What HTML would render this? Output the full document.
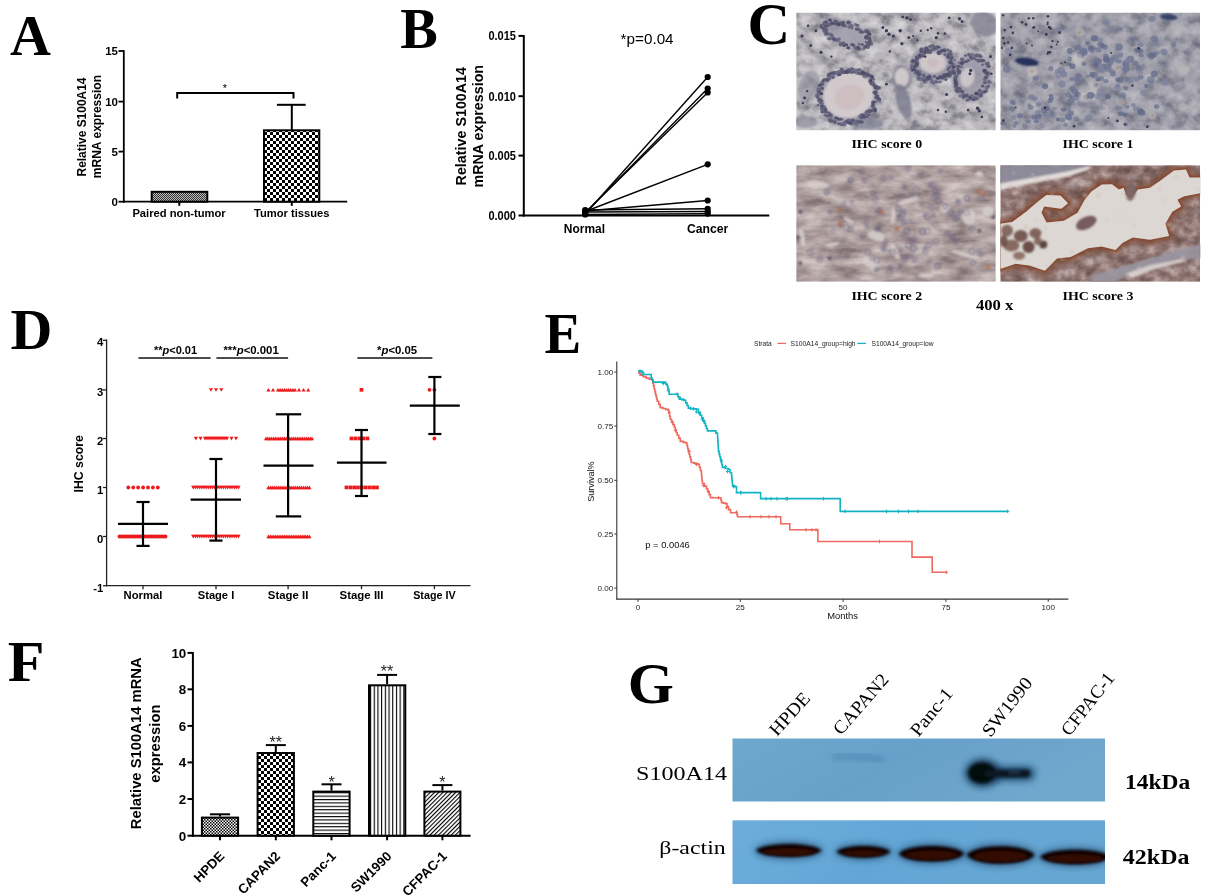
<!DOCTYPE html>
<html lang="en"><head><meta charset="utf-8"><title>S100A14 expression in pancreatic cancer</title>
<style>
html,body{margin:0;padding:0;background:#fff;}
body{width:1220px;height:896px;overflow:hidden;font-family:"Liberation Sans", Arial, sans-serif;}
svg{display:block;}
text{white-space:pre;}
</style></head><body>
<svg width="1220" height="896" viewBox="0 0 1220 896">
<rect width="1220" height="896" fill="#fff"/>
<defs>
<pattern id="chk3" width="6" height="6" patternUnits="userSpaceOnUse"><rect width="6" height="6" fill="#fff"/><rect width="3" height="3" fill="#000"/><rect x="3" y="3" width="3" height="3" fill="#000"/></pattern>
<pattern id="chk1" width="2" height="2" patternUnits="userSpaceOnUse"><rect width="2" height="2" fill="#bbb"/><rect width="1" height="1" fill="#333"/><rect x="1" y="1" width="1" height="1" fill="#333"/></pattern>
<pattern id="chk2" width="3" height="3" patternUnits="userSpaceOnUse"><rect width="3" height="3" fill="#fff"/><rect width="1.5" height="1.5" fill="#000"/><rect x="1.5" y="1.5" width="1.5" height="1.5" fill="#000"/></pattern>
<pattern id="hln" width="4" height="3.4" patternUnits="userSpaceOnUse"><rect width="4" height="3.4" fill="#fff"/><rect width="4" height="1.1" fill="#000"/></pattern>
<pattern id="vln" width="3.7" height="4" patternUnits="userSpaceOnUse"><rect width="3.7" height="4" fill="#fff"/><rect width="1.1" height="4" fill="#000"/></pattern>
<pattern id="dln" width="3" height="3" patternUnits="userSpaceOnUse" patternTransform="rotate(-45)"><rect width="3" height="3" fill="#fff"/><rect width="3" height="1.1" fill="#000"/></pattern>
</defs>
<g id="panelA">
<text x="10.0" y="55.4" font-family='"Liberation Serif", "Times New Roman", serif' font-size="57" font-weight="bold" text-anchor="start" fill="#000" textLength="40.9" lengthAdjust="spacingAndGlyphs">A</text>
<line x1="123.8" y1="50.2" x2="123.8" y2="202.6" stroke="#000" stroke-width="1.8" />
<line x1="122.9" y1="201.7" x2="347.2" y2="201.7" stroke="#000" stroke-width="1.8" />
<line x1="118.5" y1="51.0" x2="123.8" y2="51.0" stroke="#000" stroke-width="1.8" />
<text x="118.0" y="55.2" font-family='"Liberation Sans", Arial, sans-serif' font-size="11.5" font-weight="bold" text-anchor="end" fill="#000">15</text>
<line x1="118.5" y1="101.6" x2="123.8" y2="101.6" stroke="#000" stroke-width="1.8" />
<text x="118.0" y="105.8" font-family='"Liberation Sans", Arial, sans-serif' font-size="11.5" font-weight="bold" text-anchor="end" fill="#000">10</text>
<line x1="118.5" y1="151.6" x2="123.8" y2="151.6" stroke="#000" stroke-width="1.8" />
<text x="118.0" y="155.8" font-family='"Liberation Sans", Arial, sans-serif' font-size="11.5" font-weight="bold" text-anchor="end" fill="#000">5</text>
<line x1="118.5" y1="201.7" x2="123.8" y2="201.7" stroke="#000" stroke-width="1.8" />
<text x="118.0" y="205.9" font-family='"Liberation Sans", Arial, sans-serif' font-size="11.5" font-weight="bold" text-anchor="end" fill="#000">0</text>
<line x1="179.3" y1="201.7" x2="179.3" y2="205.8" stroke="#000" stroke-width="2" />
<line x1="291.8" y1="201.7" x2="291.8" y2="205.8" stroke="#000" stroke-width="2" />
<rect x="151.7" y="191.8" width="55.6" height="9.9" fill="url(#chk1)" stroke="#000" stroke-width="2"/>
<rect x="264" y="130.3" width="55.3" height="71.4" fill="url(#chk3)" stroke="#000" stroke-width="2"/>
<line x1="291.8" y1="104.8" x2="291.8" y2="130.0" stroke="#000" stroke-width="2" />
<line x1="276.9" y1="104.8" x2="305.7" y2="104.8" stroke="#000" stroke-width="2" />
<path d="M177.2 98.4V93H293.5V98.4" fill="none" stroke="#000" stroke-width="2"/>
<text x="224.9" y="91.5" font-family='"Liberation Sans", Arial, sans-serif' font-size="11" font-weight="normal" text-anchor="middle" fill="#000">*</text>
<text x="132.4" y="216.6" font-family='"Liberation Sans", Arial, sans-serif' font-size="11.2" font-weight="bold" text-anchor="start" fill="#000" textLength="93.3" lengthAdjust="spacingAndGlyphs">Paired non-tumor</text>
<text x="253.9" y="216.6" font-family='"Liberation Sans", Arial, sans-serif' font-size="11.2" font-weight="bold" text-anchor="start" fill="#000" textLength="75.6" lengthAdjust="spacingAndGlyphs">Tumor tissues</text>
<text x="86.0" y="127.0" font-family='"Liberation Sans", Arial, sans-serif' font-size="11.95" font-weight="bold" text-anchor="middle" fill="#000" transform="rotate(-90 86.0 127.0)">Relative S100A14</text>
<text x="100.6" y="126.6" font-family='"Liberation Sans", Arial, sans-serif' font-size="12.05" font-weight="bold" text-anchor="middle" fill="#000" transform="rotate(-90 100.6 126.6)">mRNA expression</text>
</g>
<g id="panelB">
<text x="400.3" y="48.4" font-family='"Liberation Serif", "Times New Roman", serif' font-size="57" font-weight="bold" text-anchor="start" fill="#000" textLength="37.5" lengthAdjust="spacingAndGlyphs">B</text>
<line x1="523.8" y1="35.0" x2="523.8" y2="216.5" stroke="#000" stroke-width="2" />
<line x1="522.8" y1="215.5" x2="769.3" y2="215.5" stroke="#000" stroke-width="2" />
<line x1="518.5" y1="35.9" x2="523.8" y2="35.9" stroke="#000" stroke-width="2" />
<text x="516.0" y="40.3" font-family='"Liberation Sans", Arial, sans-serif' font-size="12" font-weight="bold" text-anchor="end" fill="#000" textLength="27.6" lengthAdjust="spacingAndGlyphs">0.015</text>
<line x1="518.5" y1="96.2" x2="523.8" y2="96.2" stroke="#000" stroke-width="2" />
<text x="516.0" y="100.6" font-family='"Liberation Sans", Arial, sans-serif' font-size="12" font-weight="bold" text-anchor="end" fill="#000" textLength="27.6" lengthAdjust="spacingAndGlyphs">0.010</text>
<line x1="518.5" y1="155.6" x2="523.8" y2="155.6" stroke="#000" stroke-width="2" />
<text x="516.0" y="160.0" font-family='"Liberation Sans", Arial, sans-serif' font-size="12" font-weight="bold" text-anchor="end" fill="#000" textLength="27.6" lengthAdjust="spacingAndGlyphs">0.005</text>
<line x1="518.5" y1="215.5" x2="523.8" y2="215.5" stroke="#000" stroke-width="2" />
<text x="516.0" y="219.9" font-family='"Liberation Sans", Arial, sans-serif' font-size="12" font-weight="bold" text-anchor="end" fill="#000" textLength="27.6" lengthAdjust="spacingAndGlyphs">0.000</text>
<line x1="585.2" y1="214.0" x2="707.7" y2="77.0" stroke="#000" stroke-width="1.4" />
<circle cx="585.2" cy="214.0" r="3.1"/><circle cx="707.7" cy="77" r="3.1"/>
<line x1="585.2" y1="213.0" x2="707.7" y2="88.5" stroke="#000" stroke-width="1.4" />
<circle cx="585.2" cy="213.0" r="3.1"/><circle cx="707.7" cy="88.5" r="3.1"/>
<line x1="585.2" y1="212.5" x2="707.7" y2="92.5" stroke="#000" stroke-width="1.4" />
<circle cx="585.2" cy="212.5" r="3.1"/><circle cx="707.7" cy="92.5" r="3.1"/>
<line x1="585.2" y1="211.5" x2="707.7" y2="164.3" stroke="#000" stroke-width="1.4" />
<circle cx="585.2" cy="211.5" r="3.1"/><circle cx="707.7" cy="164.3" r="3.1"/>
<line x1="585.2" y1="211.0" x2="707.7" y2="200.5" stroke="#000" stroke-width="1.4" />
<circle cx="585.2" cy="211.0" r="3.1"/><circle cx="707.7" cy="200.5" r="3.1"/>
<line x1="585.2" y1="210.0" x2="707.7" y2="208.8" stroke="#000" stroke-width="1.4" />
<circle cx="585.2" cy="210.0" r="3.1"/><circle cx="707.7" cy="208.8" r="3.1"/>
<line x1="585.2" y1="212.0" x2="707.7" y2="211.5" stroke="#000" stroke-width="1.4" />
<circle cx="585.2" cy="212.0" r="3.1"/><circle cx="707.7" cy="211.5" r="3.1"/>
<line x1="585.2" y1="214.5" x2="707.7" y2="213.6" stroke="#000" stroke-width="1.4" />
<circle cx="585.2" cy="214.5" r="3.1"/><circle cx="707.7" cy="213.6" r="3.1"/>
<text x="620.6" y="43.5" font-family='"Liberation Sans", Arial, sans-serif' font-size="15" font-weight="normal" text-anchor="start" fill="#000" textLength="53.0" lengthAdjust="spacingAndGlyphs">*p=0.04</text>
<text x="563.8" y="233.0" font-family='"Liberation Sans", Arial, sans-serif' font-size="12" font-weight="bold" text-anchor="start" fill="#000" textLength="41.2" lengthAdjust="spacingAndGlyphs">Normal</text>
<text x="687.0" y="233.0" font-family='"Liberation Sans", Arial, sans-serif' font-size="12" font-weight="bold" text-anchor="start" fill="#000" textLength="41.3" lengthAdjust="spacingAndGlyphs">Cancer</text>
<text x="466.5" y="126.2" font-family='"Liberation Sans", Arial, sans-serif' font-size="14.3" font-weight="bold" text-anchor="middle" fill="#000" transform="rotate(-90 466.5 126.2)">Relative S100A14</text>
<text x="483.0" y="126.2" font-family='"Liberation Sans", Arial, sans-serif' font-size="14.3" font-weight="bold" text-anchor="middle" fill="#000" transform="rotate(-90 483.0 126.2)">mRNA expression</text>
</g>
<g id="panelC">
<text x="747.6" y="44.0" font-family='"Liberation Serif", "Times New Roman", serif' font-size="59" font-weight="bold" text-anchor="start" fill="#000">C</text>
<defs>
<filter id="tx1" x="0" y="0" width="100%" height="100%" color-interpolation-filters="sRGB">
 <feTurbulence type="fractalNoise" baseFrequency="0.075 0.09" numOctaves="5" seed="7"/>
 <feColorMatrix type="matrix" values="1.6 0 0 0 -0.3  1.6 0 0 0 -0.3  1.6 0 0 0 -0.3  0 0 0 0 1"/>
 <feComponentTransfer><feFuncR type="table" tableValues="0.50 0.62 0.725 0.785 0.83"/><feFuncG type="table" tableValues="0.49 0.61 0.715 0.775 0.825"/><feFuncB type="table" tableValues="0.53 0.64 0.735 0.79 0.835"/></feComponentTransfer>
 <feComposite in2="SourceGraphic" operator="in"/>
</filter>
<filter id="tx2" x="0" y="0" width="100%" height="100%" color-interpolation-filters="sRGB">
 <feTurbulence type="fractalNoise" baseFrequency="0.07 0.08" numOctaves="4" seed="21"/>
 <feColorMatrix type="matrix" values="1.6 0 0 0 -0.3  1.6 0 0 0 -0.3  1.6 0 0 0 -0.3  0 0 0 0 1"/>
 <feComponentTransfer><feFuncR type="table" tableValues="0.44 0.54 0.625 0.675 0.73"/><feFuncG type="table" tableValues="0.44 0.54 0.62 0.67 0.72"/><feFuncB type="table" tableValues="0.51 0.59 0.665 0.705 0.745"/></feComponentTransfer>
 <feComposite in2="SourceGraphic" operator="in"/>
</filter>
<filter id="tx3" x="0" y="0" width="100%" height="100%" color-interpolation-filters="sRGB">
 <feTurbulence type="fractalNoise" baseFrequency="0.035 0.09" numOctaves="4" seed="5"/>
 <feColorMatrix type="matrix" values="1.6 0 0 0 -0.3  1.6 0 0 0 -0.3  1.6 0 0 0 -0.3  0 0 0 0 1"/>
 <feComponentTransfer><feFuncR type="table" tableValues="0.52 0.61 0.685 0.75 0.82"/><feFuncG type="table" tableValues="0.45 0.545 0.625 0.70 0.78"/><feFuncB type="table" tableValues="0.46 0.55 0.625 0.695 0.77"/></feComponentTransfer>
 <feComposite in2="SourceGraphic" operator="in"/>
</filter>
<filter id="tx4" x="0" y="0" width="100%" height="100%" color-interpolation-filters="sRGB">
 <feTurbulence type="fractalNoise" baseFrequency="0.08 0.09" numOctaves="4" seed="11"/>
 <feColorMatrix type="matrix" values="1.6 0 0 0 -0.3  1.6 0 0 0 -0.3  1.6 0 0 0 -0.3  0 0 0 0 1"/>
 <feComponentTransfer><feFuncR type="table" tableValues="0.42 0.50 0.57 0.65 0.74"/><feFuncG type="table" tableValues="0.32 0.40 0.47 0.56 0.67"/><feFuncB type="table" tableValues="0.31 0.385 0.455 0.55 0.66"/></feComponentTransfer>
 <feComposite in2="SourceGraphic" operator="in"/>
</filter>
<filter id="b1" x="-20%" y="-20%" width="140%" height="140%"><feGaussianBlur stdDeviation="1"/></filter>
<filter id="b2" x="-20%" y="-20%" width="140%" height="140%"><feGaussianBlur stdDeviation="2"/></filter>
<filter id="b05" x="-20%" y="-20%" width="140%" height="140%"><feGaussianBlur stdDeviation="0.6"/></filter>
<clipPath id="c1"><rect x="796.2" y="12.6" width="199.6" height="117.8"/></clipPath>
<clipPath id="c2"><rect x="1000.3" y="12.6" width="199.8" height="117.8"/></clipPath>
<clipPath id="c3"><rect x="796.2" y="165.2" width="199.6" height="116.6"/></clipPath>
<clipPath id="c4"><rect x="1000.3" y="165.2" width="199.8" height="116.6"/></clipPath>
</defs>
<g clip-path="url(#c1)">
<rect x="796.2" y="12.6" width="199.6" height="117.8" fill="#c8c4cc" filter="url(#tx1)"/>
<g filter="url(#b1)">
<ellipse cx="848.5" cy="96.2" rx="30.5" ry="27.5" fill="#9795a5" opacity="0.9" transform="rotate(-15 848.5 96.2)"/>
<ellipse cx="848.5" cy="95.4" rx="25.5" ry="22.5" fill="#d1c9cb" opacity="1" transform="rotate(-15 848.5 95.4)"/>
<ellipse cx="849.4" cy="97.1" rx="15" ry="12" fill="#c9b7ba" opacity="0.6" transform="rotate(-20 849.4 97.1)"/>
<ellipse cx="932.9" cy="64.4" rx="24" ry="19" fill="#9492a3" opacity="0.9" transform="rotate(-5 932.9 64.4)"/>
<ellipse cx="932.9" cy="62.7" rx="13.5" ry="10.5" fill="#cfc6c9" opacity="1" transform="rotate(0 932.9 62.7)"/>
<ellipse cx="932.9" cy="62.7" rx="6" ry="4" fill="#c6b3b6" opacity="0.55" transform="rotate(0 932.9 62.7)"/>
<ellipse cx="971.6" cy="77.3" rx="20" ry="25" fill="#9a98a8" opacity="0.85" transform="rotate(10 971.6 77.3)"/>
<ellipse cx="967.3" cy="77.3" rx="7" ry="10" fill="#cbc4c9" opacity="1" transform="rotate(15 967.3 77.3)"/>
<ellipse cx="901.9" cy="78.1" rx="10" ry="13" fill="#8b8a9b" opacity="0.85" transform="rotate(0 901.9 78.1)"/>
<ellipse cx="901.9" cy="77.3" rx="7" ry="9.5" fill="#cfc8cb" opacity="1" transform="rotate(0 901.9 77.3)"/>
<ellipse cx="846.8" cy="34.3" rx="27" ry="13" fill="#a09eac" opacity="0.85" transform="rotate(20 846.8 34.3)"/>
<ellipse cx="833.0" cy="23.9" rx="10" ry="7" fill="#92919f" opacity="0.7" transform="rotate(0 833.0 23.9)"/>
<ellipse cx="984.5" cy="23.9" rx="14" ry="12" fill="#848394" opacity="0.8" transform="rotate(30 984.5 23.9)"/>
<ellipse cx="903.6" cy="101.4" rx="7" ry="18" fill="#7b7a8e" opacity="0.8" transform="rotate(-15 903.6 101.4)"/>
<ellipse cx="808.9" cy="85.9" rx="10" ry="16" fill="#8e8d9b" opacity="0.6" transform="rotate(20 808.9 85.9)"/>
<ellipse cx="805.5" cy="122.0" rx="12" ry="6" fill="#8e8d9b" opacity="0.7" transform="rotate(0 805.5 122.0)"/>
<ellipse cx="867.5" cy="123.8" rx="16" ry="6" fill="#7b7a8e" opacity="0.7" transform="rotate(0 867.5 123.8)"/>
</g>
<g filter="url(#b05)">
<ellipse cx="878.6" cy="88.3" rx="2.2" ry="1.7" fill="#66657f" opacity="0.89"/>
<ellipse cx="876.2" cy="90.6" rx="1.7" ry="1.4" fill="#66657f" opacity="0.81"/>
<ellipse cx="874.2" cy="92.4" rx="1.9" ry="1.7" fill="#55546e" opacity="0.85"/>
<ellipse cx="876.1" cy="92.6" rx="1.5" ry="1.4" fill="#4b4a66" opacity="0.93"/>
<ellipse cx="875.6" cy="94.1" rx="1.9" ry="1.3" fill="#55546e" opacity="0.89"/>
<ellipse cx="877.6" cy="96.0" rx="1.8" ry="1.6" fill="#66657f" opacity="0.94"/>
<ellipse cx="876.7" cy="97.2" rx="2.3" ry="2.3" fill="#4b4a66" opacity="0.75"/>
<ellipse cx="879.2" cy="98.8" rx="1.6" ry="1.3" fill="#504f6b" opacity="0.93"/>
<ellipse cx="878.9" cy="99.3" rx="2.1" ry="1.7" fill="#504f6b" opacity="0.94"/>
<ellipse cx="879.3" cy="100.8" rx="1.9" ry="1.8" fill="#66657f" opacity="0.76"/>
<ellipse cx="875.8" cy="101.8" rx="1.7" ry="1.4" fill="#5e5d77" opacity="0.72"/>
<ellipse cx="873.7" cy="102.3" rx="1.6" ry="1.6" fill="#5e5d77" opacity="0.82"/>
<ellipse cx="873.1" cy="102.6" rx="2.1" ry="2.1" fill="#504f6b" opacity="0.84"/>
<ellipse cx="873.1" cy="104.6" rx="1.7" ry="1.2" fill="#55546e" opacity="0.83"/>
<ellipse cx="872.8" cy="106.0" rx="2.0" ry="1.9" fill="#504f6b" opacity="0.79"/>
<ellipse cx="874.4" cy="108.3" rx="2.0" ry="1.9" fill="#66657f" opacity="0.90"/>
<ellipse cx="874.9" cy="110.1" rx="2.2" ry="2.0" fill="#504f6b" opacity="0.89"/>
<ellipse cx="875.0" cy="110.7" rx="1.9" ry="1.6" fill="#504f6b" opacity="0.75"/>
<ellipse cx="871.6" cy="110.6" rx="1.8" ry="1.5" fill="#504f6b" opacity="0.84"/>
<ellipse cx="869.8" cy="111.3" rx="2.0" ry="1.9" fill="#55546e" opacity="0.84"/>
<ellipse cx="868.3" cy="110.8" rx="2.0" ry="1.9" fill="#5e5d77" opacity="0.71"/>
<ellipse cx="866.7" cy="112.2" rx="2.3" ry="1.9" fill="#5e5d77" opacity="0.76"/>
<ellipse cx="868.9" cy="114.7" rx="1.8" ry="1.3" fill="#55546e" opacity="0.76"/>
<ellipse cx="867.1" cy="116.5" rx="2.1" ry="1.6" fill="#5e5d77" opacity="0.82"/>
<ellipse cx="865.6" cy="115.0" rx="1.8" ry="1.7" fill="#5e5d77" opacity="0.73"/>
<ellipse cx="864.4" cy="117.3" rx="1.7" ry="1.5" fill="#4b4a66" opacity="0.76"/>
<ellipse cx="862.3" cy="115.3" rx="2.4" ry="2.0" fill="#504f6b" opacity="0.87"/>
<ellipse cx="861.6" cy="117.0" rx="2.4" ry="2.2" fill="#504f6b" opacity="0.81"/>
<ellipse cx="860.0" cy="116.6" rx="2.1" ry="2.0" fill="#66657f" opacity="0.71"/>
<ellipse cx="861.5" cy="122.0" rx="2.3" ry="1.8" fill="#4b4a66" opacity="0.78"/>
<ellipse cx="858.8" cy="121.7" rx="1.9" ry="1.5" fill="#4b4a66" opacity="0.84"/>
<ellipse cx="857.3" cy="121.3" rx="1.7" ry="1.6" fill="#66657f" opacity="0.74"/>
<ellipse cx="856.5" cy="123.9" rx="2.1" ry="1.8" fill="#66657f" opacity="0.75"/>
<ellipse cx="855.6" cy="121.7" rx="2.3" ry="2.0" fill="#66657f" opacity="0.73"/>
<ellipse cx="853.1" cy="120.6" rx="1.9" ry="1.6" fill="#66657f" opacity="0.92"/>
<ellipse cx="852.6" cy="120.1" rx="1.8" ry="1.8" fill="#55546e" opacity="0.78"/>
<ellipse cx="851.4" cy="123.2" rx="2.3" ry="2.2" fill="#5e5d77" opacity="0.93"/>
<ellipse cx="849.1" cy="122.6" rx="2.2" ry="1.9" fill="#4b4a66" opacity="0.88"/>
<ellipse cx="848.7" cy="120.4" rx="2.3" ry="1.8" fill="#5e5d77" opacity="0.85"/>
<ellipse cx="846.4" cy="121.6" rx="1.8" ry="1.4" fill="#504f6b" opacity="0.89"/>
<ellipse cx="845.2" cy="122.3" rx="2.0" ry="1.9" fill="#5e5d77" opacity="0.71"/>
<ellipse cx="844.4" cy="124.5" rx="2.2" ry="2.1" fill="#5e5d77" opacity="0.73"/>
<ellipse cx="842.2" cy="124.7" rx="1.6" ry="1.4" fill="#504f6b" opacity="0.72"/>
<ellipse cx="841.3" cy="124.3" rx="2.0" ry="2.0" fill="#66657f" opacity="0.92"/>
<ellipse cx="841.3" cy="119.1" rx="1.8" ry="1.6" fill="#4b4a66" opacity="0.72"/>
<ellipse cx="838.6" cy="123.7" rx="1.5" ry="1.2" fill="#504f6b" opacity="0.81"/>
<ellipse cx="838.7" cy="119.2" rx="1.7" ry="1.6" fill="#4b4a66" opacity="0.81"/>
<ellipse cx="835.0" cy="122.0" rx="2.0" ry="1.9" fill="#504f6b" opacity="0.76"/>
<ellipse cx="836.2" cy="117.9" rx="2.1" ry="1.5" fill="#4b4a66" opacity="0.90"/>
<ellipse cx="832.7" cy="120.4" rx="1.8" ry="1.5" fill="#66657f" opacity="0.72"/>
<ellipse cx="830.8" cy="121.0" rx="2.4" ry="1.7" fill="#55546e" opacity="0.90"/>
<ellipse cx="830.0" cy="120.0" rx="2.3" ry="1.9" fill="#5e5d77" opacity="0.76"/>
<ellipse cx="831.2" cy="116.6" rx="1.7" ry="1.2" fill="#5e5d77" opacity="0.72"/>
<ellipse cx="830.8" cy="114.8" rx="2.0" ry="1.6" fill="#55546e" opacity="0.80"/>
<ellipse cx="829.4" cy="115.4" rx="1.8" ry="1.7" fill="#5e5d77" opacity="0.76"/>
<ellipse cx="827.5" cy="116.0" rx="2.2" ry="1.6" fill="#55546e" opacity="0.71"/>
<ellipse cx="828.8" cy="112.8" rx="2.0" ry="1.4" fill="#4b4a66" opacity="0.71"/>
<ellipse cx="825.1" cy="114.9" rx="1.8" ry="1.5" fill="#55546e" opacity="0.73"/>
<ellipse cx="825.6" cy="111.6" rx="2.0" ry="1.8" fill="#55546e" opacity="0.89"/>
<ellipse cx="822.2" cy="112.0" rx="1.8" ry="1.3" fill="#504f6b" opacity="0.91"/>
<ellipse cx="825.4" cy="109.2" rx="1.7" ry="1.5" fill="#4b4a66" opacity="0.89"/>
<ellipse cx="822.0" cy="109.4" rx="2.1" ry="1.8" fill="#55546e" opacity="0.74"/>
<ellipse cx="824.2" cy="107.5" rx="2.1" ry="1.9" fill="#5e5d77" opacity="0.89"/>
<ellipse cx="821.9" cy="106.9" rx="1.9" ry="1.5" fill="#66657f" opacity="0.91"/>
<ellipse cx="821.9" cy="105.9" rx="1.8" ry="1.4" fill="#4b4a66" opacity="0.90"/>
<ellipse cx="818.0" cy="105.2" rx="1.5" ry="1.4" fill="#504f6b" opacity="0.73"/>
<ellipse cx="822.0" cy="103.8" rx="2.2" ry="1.8" fill="#66657f" opacity="0.74"/>
<ellipse cx="820.4" cy="103.0" rx="1.7" ry="1.3" fill="#66657f" opacity="0.93"/>
<ellipse cx="821.6" cy="100.9" rx="1.8" ry="1.6" fill="#55546e" opacity="0.88"/>
<ellipse cx="819.2" cy="100.4" rx="2.2" ry="1.9" fill="#55546e" opacity="0.71"/>
<ellipse cx="819.7" cy="99.4" rx="2.3" ry="1.7" fill="#55546e" opacity="0.78"/>
<ellipse cx="817.6" cy="97.4" rx="1.8" ry="1.7" fill="#66657f" opacity="0.85"/>
<ellipse cx="817.4" cy="95.9" rx="2.4" ry="2.1" fill="#55546e" opacity="0.74"/>
<ellipse cx="817.2" cy="95.1" rx="2.1" ry="2.0" fill="#66657f" opacity="0.87"/>
<ellipse cx="820.9" cy="93.8" rx="2.0" ry="1.5" fill="#4b4a66" opacity="0.83"/>
<ellipse cx="821.6" cy="93.4" rx="1.6" ry="1.5" fill="#4b4a66" opacity="0.94"/>
<ellipse cx="818.8" cy="91.6" rx="2.3" ry="2.0" fill="#4b4a66" opacity="0.81"/>
<ellipse cx="818.3" cy="89.0" rx="1.8" ry="1.7" fill="#66657f" opacity="0.80"/>
<ellipse cx="821.8" cy="88.7" rx="2.1" ry="1.7" fill="#55546e" opacity="0.73"/>
<ellipse cx="822.3" cy="88.0" rx="1.6" ry="1.3" fill="#55546e" opacity="0.79"/>
<ellipse cx="819.8" cy="85.6" rx="2.0" ry="1.7" fill="#4b4a66" opacity="0.86"/>
<ellipse cx="821.1" cy="84.6" rx="1.7" ry="1.3" fill="#504f6b" opacity="0.75"/>
<ellipse cx="822.0" cy="83.9" rx="2.2" ry="1.9" fill="#55546e" opacity="0.84"/>
<ellipse cx="822.4" cy="82.3" rx="2.2" ry="1.9" fill="#66657f" opacity="0.75"/>
<ellipse cx="823.2" cy="80.6" rx="1.5" ry="1.3" fill="#4b4a66" opacity="0.84"/>
<ellipse cx="824.9" cy="79.8" rx="2.4" ry="1.8" fill="#504f6b" opacity="0.79"/>
<ellipse cx="827.2" cy="80.2" rx="2.1" ry="2.0" fill="#5e5d77" opacity="0.70"/>
<ellipse cx="827.7" cy="79.6" rx="1.8" ry="1.5" fill="#504f6b" opacity="0.82"/>
<ellipse cx="829.2" cy="78.8" rx="1.7" ry="1.2" fill="#5e5d77" opacity="0.86"/>
<ellipse cx="828.8" cy="76.2" rx="2.2" ry="1.6" fill="#66657f" opacity="0.85"/>
<ellipse cx="828.9" cy="74.6" rx="2.1" ry="2.1" fill="#55546e" opacity="0.81"/>
<ellipse cx="832.9" cy="77.2" rx="2.0" ry="1.8" fill="#504f6b" opacity="0.81"/>
<ellipse cx="831.4" cy="73.4" rx="2.0" ry="1.9" fill="#4b4a66" opacity="0.82"/>
<ellipse cx="833.8" cy="73.5" rx="2.1" ry="1.9" fill="#66657f" opacity="0.88"/>
<ellipse cx="833.9" cy="72.5" rx="1.9" ry="1.5" fill="#55546e" opacity="0.89"/>
<ellipse cx="836.5" cy="72.4" rx="1.8" ry="1.4" fill="#66657f" opacity="0.92"/>
<ellipse cx="838.5" cy="74.4" rx="2.2" ry="1.9" fill="#66657f" opacity="0.83"/>
<ellipse cx="839.5" cy="74.4" rx="2.0" ry="1.5" fill="#4b4a66" opacity="0.86"/>
<ellipse cx="839.5" cy="71.8" rx="2.4" ry="2.1" fill="#66657f" opacity="0.86"/>
<ellipse cx="841.5" cy="72.4" rx="2.0" ry="1.5" fill="#5e5d77" opacity="0.77"/>
<ellipse cx="841.7" cy="69.1" rx="2.0" ry="1.6" fill="#504f6b" opacity="0.84"/>
<ellipse cx="843.8" cy="71.9" rx="2.2" ry="2.2" fill="#504f6b" opacity="0.77"/>
<ellipse cx="845.8" cy="71.9" rx="2.0" ry="1.5" fill="#5e5d77" opacity="0.92"/>
<ellipse cx="846.8" cy="71.9" rx="2.4" ry="2.2" fill="#4b4a66" opacity="0.91"/>
<ellipse cx="848.7" cy="70.6" rx="2.3" ry="2.3" fill="#55546e" opacity="0.90"/>
<ellipse cx="849.1" cy="69.3" rx="1.6" ry="1.6" fill="#66657f" opacity="0.85"/>
<ellipse cx="851.3" cy="72.1" rx="2.4" ry="2.0" fill="#55546e" opacity="0.73"/>
<ellipse cx="851.9" cy="68.8" rx="1.8" ry="1.7" fill="#55546e" opacity="0.73"/>
<ellipse cx="853.4" cy="69.1" rx="1.6" ry="1.2" fill="#5e5d77" opacity="0.82"/>
<ellipse cx="854.1" cy="72.2" rx="1.5" ry="1.4" fill="#55546e" opacity="0.87"/>
<ellipse cx="856.3" cy="70.5" rx="2.2" ry="2.1" fill="#66657f" opacity="0.79"/>
<ellipse cx="857.3" cy="73.2" rx="2.1" ry="1.5" fill="#66657f" opacity="0.76"/>
<ellipse cx="859.3" cy="69.8" rx="2.4" ry="1.8" fill="#5e5d77" opacity="0.82"/>
<ellipse cx="859.5" cy="73.3" rx="2.1" ry="1.7" fill="#504f6b" opacity="0.73"/>
<ellipse cx="860.0" cy="74.3" rx="1.5" ry="1.1" fill="#66657f" opacity="0.78"/>
<ellipse cx="862.6" cy="72.2" rx="2.3" ry="1.9" fill="#55546e" opacity="0.90"/>
<ellipse cx="862.8" cy="73.5" rx="2.3" ry="2.0" fill="#504f6b" opacity="0.79"/>
<ellipse cx="864.3" cy="73.8" rx="2.3" ry="2.2" fill="#4b4a66" opacity="0.83"/>
<ellipse cx="864.7" cy="76.3" rx="2.3" ry="2.2" fill="#66657f" opacity="0.72"/>
<ellipse cx="867.0" cy="74.2" rx="2.2" ry="2.0" fill="#55546e" opacity="0.87"/>
<ellipse cx="868.4" cy="75.3" rx="2.4" ry="2.1" fill="#55546e" opacity="0.76"/>
<ellipse cx="870.3" cy="75.6" rx="1.7" ry="1.4" fill="#504f6b" opacity="0.86"/>
<ellipse cx="872.2" cy="76.5" rx="2.0" ry="1.7" fill="#504f6b" opacity="0.81"/>
<ellipse cx="872.0" cy="77.9" rx="2.2" ry="2.0" fill="#4b4a66" opacity="0.76"/>
<ellipse cx="870.4" cy="81.2" rx="2.3" ry="2.2" fill="#4b4a66" opacity="0.71"/>
<ellipse cx="873.7" cy="79.0" rx="1.9" ry="1.6" fill="#5e5d77" opacity="0.71"/>
<ellipse cx="872.9" cy="81.7" rx="1.6" ry="1.3" fill="#66657f" opacity="0.71"/>
<ellipse cx="871.7" cy="83.8" rx="2.2" ry="1.6" fill="#4b4a66" opacity="0.91"/>
<ellipse cx="873.0" cy="83.8" rx="2.2" ry="1.7" fill="#66657f" opacity="0.90"/>
<ellipse cx="874.1" cy="85.6" rx="1.9" ry="1.5" fill="#504f6b" opacity="0.75"/>
<ellipse cx="875.8" cy="86.3" rx="1.9" ry="1.8" fill="#66657f" opacity="0.73"/>
<ellipse cx="875.8" cy="87.2" rx="2.4" ry="2.2" fill="#504f6b" opacity="0.88"/>
<ellipse cx="878.7" cy="87.5" rx="2.2" ry="1.8" fill="#55546e" opacity="0.75"/>
<ellipse cx="951.1" cy="63.1" rx="1.9" ry="1.4" fill="#4b4a66" opacity="0.71"/>
<ellipse cx="953.4" cy="64.5" rx="1.8" ry="1.4" fill="#5e5d77" opacity="0.77"/>
<ellipse cx="952.4" cy="65.4" rx="1.5" ry="1.1" fill="#5e5d77" opacity="0.93"/>
<ellipse cx="950.9" cy="65.8" rx="1.6" ry="1.6" fill="#66657f" opacity="0.81"/>
<ellipse cx="953.6" cy="67.3" rx="1.8" ry="1.8" fill="#4b4a66" opacity="0.93"/>
<ellipse cx="949.0" cy="67.6" rx="2.0" ry="1.7" fill="#5e5d77" opacity="0.90"/>
<ellipse cx="952.7" cy="69.8" rx="1.8" ry="1.8" fill="#5e5d77" opacity="0.80"/>
<ellipse cx="953.9" cy="71.2" rx="2.0" ry="1.5" fill="#55546e" opacity="0.76"/>
<ellipse cx="948.0" cy="69.5" rx="1.6" ry="1.5" fill="#504f6b" opacity="0.71"/>
<ellipse cx="950.2" cy="71.5" rx="1.7" ry="1.3" fill="#5e5d77" opacity="0.72"/>
<ellipse cx="949.7" cy="73.2" rx="2.3" ry="2.1" fill="#55546e" opacity="0.86"/>
<ellipse cx="950.5" cy="74.6" rx="1.5" ry="1.2" fill="#66657f" opacity="0.88"/>
<ellipse cx="949.7" cy="75.8" rx="2.0" ry="2.0" fill="#55546e" opacity="0.81"/>
<ellipse cx="946.7" cy="75.3" rx="2.4" ry="2.2" fill="#4b4a66" opacity="0.90"/>
<ellipse cx="944.1" cy="74.7" rx="1.7" ry="1.6" fill="#66657f" opacity="0.83"/>
<ellipse cx="944.3" cy="75.8" rx="2.3" ry="2.2" fill="#504f6b" opacity="0.81"/>
<ellipse cx="945.9" cy="79.6" rx="1.5" ry="1.5" fill="#4b4a66" opacity="0.84"/>
<ellipse cx="942.4" cy="77.7" rx="2.4" ry="1.9" fill="#504f6b" opacity="0.86"/>
<ellipse cx="940.4" cy="76.8" rx="1.9" ry="1.8" fill="#504f6b" opacity="0.80"/>
<ellipse cx="939.8" cy="77.2" rx="1.8" ry="1.5" fill="#504f6b" opacity="0.74"/>
<ellipse cx="940.1" cy="82.0" rx="1.7" ry="1.2" fill="#66657f" opacity="0.88"/>
<ellipse cx="937.8" cy="78.3" rx="1.9" ry="1.8" fill="#4b4a66" opacity="0.92"/>
<ellipse cx="936.9" cy="81.9" rx="1.8" ry="1.5" fill="#5e5d77" opacity="0.86"/>
<ellipse cx="935.6" cy="81.6" rx="1.8" ry="1.7" fill="#66657f" opacity="0.79"/>
<ellipse cx="934.3" cy="76.4" rx="1.7" ry="1.3" fill="#55546e" opacity="0.85"/>
<ellipse cx="933.7" cy="83.3" rx="1.7" ry="1.5" fill="#66657f" opacity="0.87"/>
<ellipse cx="932.1" cy="81.9" rx="1.9" ry="1.8" fill="#66657f" opacity="0.94"/>
<ellipse cx="931.0" cy="79.4" rx="1.6" ry="1.2" fill="#55546e" opacity="0.76"/>
<ellipse cx="930.4" cy="78.1" rx="1.9" ry="1.9" fill="#66657f" opacity="0.86"/>
<ellipse cx="929.4" cy="76.3" rx="1.9" ry="1.9" fill="#4b4a66" opacity="0.84"/>
<ellipse cx="927.4" cy="78.4" rx="2.4" ry="2.3" fill="#4b4a66" opacity="0.88"/>
<ellipse cx="925.0" cy="81.3" rx="2.2" ry="2.2" fill="#5e5d77" opacity="0.74"/>
<ellipse cx="923.9" cy="80.0" rx="1.5" ry="1.2" fill="#4b4a66" opacity="0.92"/>
<ellipse cx="924.3" cy="78.2" rx="2.1" ry="1.8" fill="#66657f" opacity="0.73"/>
<ellipse cx="923.8" cy="75.4" rx="1.8" ry="1.8" fill="#55546e" opacity="0.74"/>
<ellipse cx="921.0" cy="79.0" rx="2.3" ry="2.0" fill="#66657f" opacity="0.86"/>
<ellipse cx="918.6" cy="78.9" rx="2.2" ry="2.0" fill="#66657f" opacity="0.73"/>
<ellipse cx="918.4" cy="77.3" rx="1.8" ry="1.7" fill="#5e5d77" opacity="0.71"/>
<ellipse cx="919.7" cy="74.5" rx="2.3" ry="1.7" fill="#504f6b" opacity="0.77"/>
<ellipse cx="918.3" cy="74.4" rx="1.6" ry="1.2" fill="#504f6b" opacity="0.86"/>
<ellipse cx="919.4" cy="72.0" rx="2.3" ry="1.9" fill="#66657f" opacity="0.77"/>
<ellipse cx="917.7" cy="72.6" rx="1.9" ry="1.7" fill="#504f6b" opacity="0.82"/>
<ellipse cx="915.4" cy="73.1" rx="1.7" ry="1.6" fill="#66657f" opacity="0.83"/>
<ellipse cx="916.6" cy="71.5" rx="2.1" ry="1.9" fill="#55546e" opacity="0.78"/>
<ellipse cx="915.9" cy="70.4" rx="1.6" ry="1.2" fill="#5e5d77" opacity="0.76"/>
<ellipse cx="912.2" cy="70.5" rx="1.5" ry="1.2" fill="#4b4a66" opacity="0.76"/>
<ellipse cx="913.7" cy="69.4" rx="2.3" ry="1.9" fill="#4b4a66" opacity="0.89"/>
<ellipse cx="911.5" cy="68.1" rx="1.7" ry="1.6" fill="#5e5d77" opacity="0.87"/>
<ellipse cx="914.6" cy="66.5" rx="2.0" ry="1.7" fill="#4b4a66" opacity="0.73"/>
<ellipse cx="916.1" cy="66.0" rx="2.3" ry="1.7" fill="#504f6b" opacity="0.71"/>
<ellipse cx="911.8" cy="65.6" rx="1.6" ry="1.3" fill="#5e5d77" opacity="0.83"/>
<ellipse cx="916.4" cy="64.3" rx="2.3" ry="1.9" fill="#55546e" opacity="0.72"/>
<ellipse cx="916.9" cy="63.6" rx="2.3" ry="2.3" fill="#4b4a66" opacity="0.79"/>
<ellipse cx="912.8" cy="61.7" rx="2.3" ry="2.0" fill="#5e5d77" opacity="0.80"/>
<ellipse cx="913.2" cy="60.8" rx="2.0" ry="1.7" fill="#504f6b" opacity="0.93"/>
<ellipse cx="916.1" cy="61.0" rx="1.8" ry="1.3" fill="#504f6b" opacity="0.83"/>
<ellipse cx="916.5" cy="60.2" rx="1.9" ry="1.6" fill="#5e5d77" opacity="0.83"/>
<ellipse cx="917.0" cy="58.7" rx="1.6" ry="1.5" fill="#5e5d77" opacity="0.72"/>
<ellipse cx="916.9" cy="57.5" rx="2.0" ry="1.9" fill="#504f6b" opacity="0.87"/>
<ellipse cx="917.3" cy="57.7" rx="2.1" ry="1.6" fill="#504f6b" opacity="0.74"/>
<ellipse cx="919.0" cy="56.6" rx="2.3" ry="2.2" fill="#5e5d77" opacity="0.79"/>
<ellipse cx="919.6" cy="56.6" rx="2.2" ry="2.1" fill="#66657f" opacity="0.73"/>
<ellipse cx="920.0" cy="55.2" rx="2.1" ry="2.0" fill="#504f6b" opacity="0.94"/>
<ellipse cx="922.0" cy="55.9" rx="2.2" ry="1.7" fill="#504f6b" opacity="0.94"/>
<ellipse cx="922.3" cy="55.5" rx="1.9" ry="1.7" fill="#5e5d77" opacity="0.93"/>
<ellipse cx="920.9" cy="51.6" rx="1.5" ry="1.3" fill="#4b4a66" opacity="0.86"/>
<ellipse cx="921.5" cy="49.6" rx="2.2" ry="2.0" fill="#504f6b" opacity="0.83"/>
<ellipse cx="924.2" cy="52.5" rx="2.4" ry="2.3" fill="#5e5d77" opacity="0.90"/>
<ellipse cx="925.8" cy="52.0" rx="2.2" ry="1.7" fill="#504f6b" opacity="0.94"/>
<ellipse cx="927.2" cy="52.5" rx="1.5" ry="1.4" fill="#66657f" opacity="0.92"/>
<ellipse cx="926.4" cy="48.8" rx="2.4" ry="2.2" fill="#4b4a66" opacity="0.85"/>
<ellipse cx="928.3" cy="50.4" rx="2.2" ry="1.7" fill="#55546e" opacity="0.86"/>
<ellipse cx="930.0" cy="52.3" rx="2.1" ry="2.0" fill="#55546e" opacity="0.84"/>
<ellipse cx="930.4" cy="46.3" rx="2.2" ry="1.6" fill="#504f6b" opacity="0.71"/>
<ellipse cx="932.3" cy="49.7" rx="2.3" ry="1.7" fill="#55546e" opacity="0.72"/>
<ellipse cx="932.8" cy="45.6" rx="2.1" ry="2.0" fill="#66657f" opacity="0.89"/>
<ellipse cx="934.2" cy="47.8" rx="2.1" ry="2.1" fill="#66657f" opacity="0.81"/>
<ellipse cx="935.6" cy="48.4" rx="2.3" ry="2.2" fill="#55546e" opacity="0.70"/>
<ellipse cx="937.0" cy="47.0" rx="2.1" ry="2.1" fill="#66657f" opacity="0.89"/>
<ellipse cx="938.7" cy="47.3" rx="1.8" ry="1.3" fill="#504f6b" opacity="0.91"/>
<ellipse cx="938.5" cy="52.8" rx="1.9" ry="1.7" fill="#55546e" opacity="0.83"/>
<ellipse cx="938.9" cy="53.0" rx="2.2" ry="2.2" fill="#55546e" opacity="0.87"/>
<ellipse cx="940.5" cy="51.8" rx="2.2" ry="2.2" fill="#55546e" opacity="0.74"/>
<ellipse cx="942.6" cy="50.5" rx="1.9" ry="1.8" fill="#504f6b" opacity="0.88"/>
<ellipse cx="944.5" cy="50.0" rx="2.1" ry="1.8" fill="#55546e" opacity="0.80"/>
<ellipse cx="944.8" cy="51.2" rx="1.5" ry="1.1" fill="#4b4a66" opacity="0.86"/>
<ellipse cx="947.6" cy="49.6" rx="1.7" ry="1.2" fill="#5e5d77" opacity="0.82"/>
<ellipse cx="945.0" cy="54.6" rx="1.6" ry="1.4" fill="#5e5d77" opacity="0.89"/>
<ellipse cx="949.9" cy="51.3" rx="2.2" ry="1.9" fill="#66657f" opacity="0.87"/>
<ellipse cx="948.3" cy="54.5" rx="1.8" ry="1.7" fill="#5e5d77" opacity="0.84"/>
<ellipse cx="950.7" cy="54.1" rx="2.1" ry="1.9" fill="#5e5d77" opacity="0.93"/>
<ellipse cx="947.9" cy="56.5" rx="1.8" ry="1.6" fill="#4b4a66" opacity="0.74"/>
<ellipse cx="948.4" cy="57.2" rx="1.7" ry="1.6" fill="#504f6b" opacity="0.85"/>
<ellipse cx="952.0" cy="56.9" rx="1.7" ry="1.3" fill="#66657f" opacity="0.80"/>
<ellipse cx="951.8" cy="57.8" rx="1.6" ry="1.5" fill="#4b4a66" opacity="0.71"/>
<ellipse cx="950.9" cy="59.4" rx="1.6" ry="1.4" fill="#504f6b" opacity="0.84"/>
<ellipse cx="954.3" cy="60.1" rx="1.6" ry="1.2" fill="#66657f" opacity="0.79"/>
<ellipse cx="950.2" cy="61.9" rx="2.1" ry="1.7" fill="#504f6b" opacity="0.77"/>
<ellipse cx="950.8" cy="62.4" rx="2.1" ry="1.5" fill="#504f6b" opacity="0.85"/>
<ellipse cx="988.7" cy="81.3" rx="1.7" ry="1.2" fill="#5e5d77" opacity="0.74"/>
<ellipse cx="989.5" cy="82.3" rx="2.2" ry="1.6" fill="#66657f" opacity="0.86"/>
<ellipse cx="984.9" cy="82.7" rx="2.0" ry="1.4" fill="#55546e" opacity="0.90"/>
<ellipse cx="988.4" cy="85.9" rx="1.6" ry="1.5" fill="#5e5d77" opacity="0.88"/>
<ellipse cx="986.9" cy="87.6" rx="2.4" ry="2.1" fill="#66657f" opacity="0.84"/>
<ellipse cx="982.6" cy="85.9" rx="1.7" ry="1.5" fill="#504f6b" opacity="0.83"/>
<ellipse cx="986.1" cy="91.1" rx="2.2" ry="1.8" fill="#5e5d77" opacity="0.82"/>
<ellipse cx="984.7" cy="91.6" rx="1.7" ry="1.2" fill="#4b4a66" opacity="0.82"/>
<ellipse cx="983.6" cy="92.1" rx="2.2" ry="1.8" fill="#55546e" opacity="0.72"/>
<ellipse cx="979.7" cy="90.4" rx="1.9" ry="1.6" fill="#55546e" opacity="0.85"/>
<ellipse cx="981.1" cy="93.1" rx="2.0" ry="1.5" fill="#5e5d77" opacity="0.86"/>
<ellipse cx="980.5" cy="95.6" rx="2.4" ry="1.9" fill="#4b4a66" opacity="0.81"/>
<ellipse cx="977.5" cy="93.6" rx="1.6" ry="1.6" fill="#5e5d77" opacity="0.82"/>
<ellipse cx="976.5" cy="93.4" rx="2.3" ry="2.0" fill="#4b4a66" opacity="0.95"/>
<ellipse cx="977.1" cy="98.5" rx="2.1" ry="1.7" fill="#5e5d77" opacity="0.82"/>
<ellipse cx="975.2" cy="97.4" rx="2.3" ry="2.0" fill="#66657f" opacity="0.78"/>
<ellipse cx="974.6" cy="99.2" rx="2.0" ry="1.8" fill="#5e5d77" opacity="0.72"/>
<ellipse cx="973.5" cy="99.5" rx="1.8" ry="1.5" fill="#504f6b" opacity="0.90"/>
<ellipse cx="971.9" cy="95.7" rx="2.0" ry="1.4" fill="#5e5d77" opacity="0.78"/>
<ellipse cx="971.2" cy="98.4" rx="2.1" ry="1.8" fill="#66657f" opacity="0.92"/>
<ellipse cx="970.4" cy="98.4" rx="1.8" ry="1.8" fill="#504f6b" opacity="0.70"/>
<ellipse cx="969.3" cy="97.1" rx="1.7" ry="1.6" fill="#55546e" opacity="0.85"/>
<ellipse cx="967.4" cy="100.1" rx="1.9" ry="1.5" fill="#5e5d77" opacity="0.91"/>
<ellipse cx="967.2" cy="94.9" rx="1.6" ry="1.4" fill="#5e5d77" opacity="0.89"/>
<ellipse cx="966.0" cy="96.1" rx="2.2" ry="1.6" fill="#55546e" opacity="0.93"/>
<ellipse cx="964.2" cy="96.1" rx="1.6" ry="1.4" fill="#5e5d77" opacity="0.76"/>
<ellipse cx="963.3" cy="97.7" rx="1.5" ry="1.3" fill="#55546e" opacity="0.91"/>
<ellipse cx="963.4" cy="94.9" rx="2.3" ry="2.2" fill="#55546e" opacity="0.71"/>
<ellipse cx="960.2" cy="96.0" rx="1.5" ry="1.5" fill="#66657f" opacity="0.89"/>
<ellipse cx="962.2" cy="91.5" rx="2.0" ry="1.8" fill="#504f6b" opacity="0.81"/>
<ellipse cx="960.8" cy="91.3" rx="1.6" ry="1.2" fill="#504f6b" opacity="0.83"/>
<ellipse cx="959.1" cy="91.6" rx="2.2" ry="1.8" fill="#66657f" opacity="0.78"/>
<ellipse cx="957.0" cy="91.2" rx="1.7" ry="1.7" fill="#4b4a66" opacity="0.70"/>
<ellipse cx="959.5" cy="88.7" rx="2.3" ry="1.6" fill="#55546e" opacity="0.89"/>
<ellipse cx="955.8" cy="90.1" rx="1.5" ry="1.3" fill="#55546e" opacity="0.81"/>
<ellipse cx="956.8" cy="87.7" rx="1.8" ry="1.8" fill="#4b4a66" opacity="0.75"/>
<ellipse cx="955.4" cy="86.9" rx="1.8" ry="1.7" fill="#66657f" opacity="0.85"/>
<ellipse cx="956.1" cy="84.8" rx="2.3" ry="2.1" fill="#504f6b" opacity="0.87"/>
<ellipse cx="956.0" cy="82.5" rx="2.1" ry="1.7" fill="#4b4a66" opacity="0.86"/>
<ellipse cx="955.5" cy="82.3" rx="1.9" ry="1.9" fill="#504f6b" opacity="0.84"/>
<ellipse cx="955.4" cy="80.3" rx="1.9" ry="1.7" fill="#504f6b" opacity="0.93"/>
<ellipse cx="954.8" cy="78.5" rx="1.6" ry="1.3" fill="#504f6b" opacity="0.78"/>
<ellipse cx="956.1" cy="77.1" rx="2.0" ry="1.5" fill="#4b4a66" opacity="0.85"/>
<ellipse cx="955.8" cy="76.7" rx="2.3" ry="1.8" fill="#66657f" opacity="0.75"/>
<ellipse cx="956.8" cy="74.7" rx="2.4" ry="1.8" fill="#66657f" opacity="0.71"/>
<ellipse cx="953.8" cy="73.1" rx="2.3" ry="1.8" fill="#504f6b" opacity="0.89"/>
<ellipse cx="959.2" cy="72.8" rx="1.8" ry="1.6" fill="#4b4a66" opacity="0.75"/>
<ellipse cx="958.9" cy="71.6" rx="2.4" ry="2.1" fill="#55546e" opacity="0.90"/>
<ellipse cx="957.8" cy="69.4" rx="1.8" ry="1.3" fill="#55546e" opacity="0.89"/>
<ellipse cx="956.9" cy="66.4" rx="2.1" ry="1.6" fill="#66657f" opacity="0.81"/>
<ellipse cx="958.9" cy="66.4" rx="2.3" ry="1.6" fill="#55546e" opacity="0.80"/>
<ellipse cx="961.4" cy="67.0" rx="1.7" ry="1.3" fill="#66657f" opacity="0.79"/>
<ellipse cx="959.4" cy="62.8" rx="1.8" ry="1.6" fill="#5e5d77" opacity="0.70"/>
<ellipse cx="962.0" cy="63.4" rx="1.9" ry="1.8" fill="#4b4a66" opacity="0.95"/>
<ellipse cx="962.5" cy="62.5" rx="2.2" ry="1.9" fill="#504f6b" opacity="0.73"/>
<ellipse cx="962.0" cy="59.2" rx="2.1" ry="1.7" fill="#5e5d77" opacity="0.89"/>
<ellipse cx="965.2" cy="61.8" rx="1.7" ry="1.5" fill="#5e5d77" opacity="0.81"/>
<ellipse cx="966.4" cy="61.4" rx="2.0" ry="1.7" fill="#55546e" opacity="0.73"/>
<ellipse cx="965.4" cy="55.6" rx="1.6" ry="1.1" fill="#4b4a66" opacity="0.81"/>
<ellipse cx="968.2" cy="60.5" rx="1.5" ry="1.1" fill="#5e5d77" opacity="0.78"/>
<ellipse cx="968.5" cy="60.4" rx="1.7" ry="1.3" fill="#5e5d77" opacity="0.85"/>
<ellipse cx="968.8" cy="54.7" rx="1.7" ry="1.4" fill="#4b4a66" opacity="0.76"/>
<ellipse cx="970.5" cy="57.0" rx="1.8" ry="1.5" fill="#4b4a66" opacity="0.84"/>
<ellipse cx="971.7" cy="59.0" rx="1.7" ry="1.3" fill="#5e5d77" opacity="0.93"/>
<ellipse cx="972.2" cy="54.7" rx="2.3" ry="1.7" fill="#66657f" opacity="0.74"/>
<ellipse cx="973.2" cy="57.7" rx="1.8" ry="1.6" fill="#66657f" opacity="0.75"/>
<ellipse cx="974.4" cy="58.4" rx="1.6" ry="1.1" fill="#4b4a66" opacity="0.72"/>
<ellipse cx="976.7" cy="55.5" rx="2.3" ry="2.1" fill="#504f6b" opacity="0.81"/>
<ellipse cx="976.1" cy="59.7" rx="1.7" ry="1.3" fill="#5e5d77" opacity="0.79"/>
<ellipse cx="979.4" cy="55.3" rx="2.3" ry="1.9" fill="#66657f" opacity="0.72"/>
<ellipse cx="980.6" cy="56.5" rx="1.9" ry="1.6" fill="#55546e" opacity="0.85"/>
<ellipse cx="978.6" cy="60.7" rx="2.2" ry="2.1" fill="#504f6b" opacity="0.78"/>
<ellipse cx="981.0" cy="60.6" rx="2.2" ry="1.8" fill="#5e5d77" opacity="0.79"/>
<ellipse cx="981.9" cy="60.2" rx="1.5" ry="1.1" fill="#55546e" opacity="0.78"/>
<ellipse cx="982.8" cy="60.5" rx="2.2" ry="1.6" fill="#55546e" opacity="0.73"/>
<ellipse cx="983.8" cy="61.1" rx="1.7" ry="1.5" fill="#55546e" opacity="0.77"/>
<ellipse cx="982.5" cy="64.7" rx="1.6" ry="1.3" fill="#66657f" opacity="0.93"/>
<ellipse cx="986.2" cy="64.0" rx="1.6" ry="1.2" fill="#504f6b" opacity="0.71"/>
<ellipse cx="987.7" cy="63.3" rx="2.1" ry="1.9" fill="#5e5d77" opacity="0.83"/>
<ellipse cx="988.3" cy="66.1" rx="2.2" ry="2.0" fill="#5e5d77" opacity="0.79"/>
<ellipse cx="988.9" cy="66.2" rx="1.5" ry="1.2" fill="#504f6b" opacity="0.88"/>
<ellipse cx="984.6" cy="70.5" rx="2.3" ry="1.8" fill="#504f6b" opacity="0.80"/>
<ellipse cx="984.7" cy="71.2" rx="2.3" ry="2.1" fill="#4b4a66" opacity="0.75"/>
<ellipse cx="986.0" cy="73.0" rx="2.0" ry="1.5" fill="#55546e" opacity="0.76"/>
<ellipse cx="987.7" cy="73.2" rx="2.3" ry="2.0" fill="#504f6b" opacity="0.90"/>
<ellipse cx="987.4" cy="75.5" rx="2.0" ry="1.5" fill="#5e5d77" opacity="0.75"/>
<ellipse cx="986.4" cy="76.8" rx="1.7" ry="1.3" fill="#55546e" opacity="0.71"/>
<ellipse cx="985.7" cy="77.7" rx="2.2" ry="1.6" fill="#55546e" opacity="0.87"/>
<ellipse cx="984.9" cy="79.5" rx="2.1" ry="1.6" fill="#5e5d77" opacity="0.74"/>
<ellipse cx="871.0" cy="43.7" rx="2.1" ry="2.1" fill="#55546e" opacity="0.78"/>
<ellipse cx="866.3" cy="42.2" rx="1.5" ry="1.3" fill="#504f6b" opacity="0.79"/>
<ellipse cx="868.4" cy="44.1" rx="2.1" ry="2.1" fill="#5e5d77" opacity="0.85"/>
<ellipse cx="867.8" cy="45.1" rx="1.9" ry="1.6" fill="#4b4a66" opacity="0.77"/>
<ellipse cx="867.3" cy="45.9" rx="1.8" ry="1.8" fill="#5e5d77" opacity="0.76"/>
<ellipse cx="867.8" cy="46.7" rx="2.3" ry="2.2" fill="#66657f" opacity="0.94"/>
<ellipse cx="866.0" cy="46.4" rx="1.5" ry="1.3" fill="#504f6b" opacity="0.75"/>
<ellipse cx="864.9" cy="46.9" rx="2.0" ry="1.8" fill="#504f6b" opacity="0.76"/>
<ellipse cx="862.2" cy="44.6" rx="1.6" ry="1.3" fill="#504f6b" opacity="0.87"/>
<ellipse cx="863.7" cy="49.0" rx="1.6" ry="1.4" fill="#55546e" opacity="0.71"/>
<ellipse cx="859.2" cy="44.4" rx="1.6" ry="1.3" fill="#66657f" opacity="0.84"/>
<ellipse cx="859.7" cy="49.1" rx="2.2" ry="1.9" fill="#66657f" opacity="0.80"/>
<ellipse cx="858.2" cy="48.0" rx="2.2" ry="1.9" fill="#504f6b" opacity="0.85"/>
<ellipse cx="857.2" cy="48.0" rx="2.2" ry="1.9" fill="#504f6b" opacity="0.78"/>
<ellipse cx="855.5" cy="48.0" rx="1.8" ry="1.4" fill="#66657f" opacity="0.93"/>
<ellipse cx="853.6" cy="45.5" rx="1.8" ry="1.7" fill="#504f6b" opacity="0.82"/>
<ellipse cx="852.1" cy="44.5" rx="2.3" ry="1.6" fill="#55546e" opacity="0.83"/>
<ellipse cx="848.5" cy="48.3" rx="1.6" ry="1.3" fill="#55546e" opacity="0.78"/>
<ellipse cx="848.2" cy="47.7" rx="2.1" ry="1.6" fill="#504f6b" opacity="0.88"/>
<ellipse cx="846.4" cy="44.7" rx="1.8" ry="1.5" fill="#504f6b" opacity="0.94"/>
<ellipse cx="844.0" cy="45.7" rx="1.8" ry="1.3" fill="#4b4a66" opacity="0.90"/>
<ellipse cx="843.4" cy="43.2" rx="2.1" ry="1.8" fill="#55546e" opacity="0.85"/>
<ellipse cx="840.6" cy="44.6" rx="1.9" ry="1.8" fill="#4b4a66" opacity="0.72"/>
<ellipse cx="840.2" cy="42.6" rx="1.6" ry="1.3" fill="#66657f" opacity="0.81"/>
<ellipse cx="839.2" cy="38.9" rx="1.7" ry="1.7" fill="#66657f" opacity="0.82"/>
<ellipse cx="837.4" cy="40.1" rx="2.2" ry="2.1" fill="#5e5d77" opacity="0.75"/>
<ellipse cx="834.5" cy="39.9" rx="2.2" ry="1.6" fill="#504f6b" opacity="0.76"/>
<ellipse cx="833.5" cy="38.5" rx="2.3" ry="1.7" fill="#4b4a66" opacity="0.89"/>
<ellipse cx="833.0" cy="38.0" rx="1.8" ry="1.3" fill="#66657f" opacity="0.84"/>
<ellipse cx="829.3" cy="38.7" rx="2.2" ry="1.8" fill="#55546e" opacity="0.78"/>
<ellipse cx="831.9" cy="35.4" rx="1.7" ry="1.6" fill="#55546e" opacity="0.92"/>
<ellipse cx="830.5" cy="34.4" rx="2.1" ry="1.8" fill="#66657f" opacity="0.74"/>
<ellipse cx="828.9" cy="34.2" rx="1.8" ry="1.2" fill="#66657f" opacity="0.88"/>
<ellipse cx="825.9" cy="34.2" rx="2.1" ry="1.7" fill="#5e5d77" opacity="0.74"/>
<ellipse cx="826.5" cy="32.6" rx="1.9" ry="1.6" fill="#504f6b" opacity="0.78"/>
<ellipse cx="825.3" cy="31.3" rx="2.1" ry="2.1" fill="#5e5d77" opacity="0.88"/>
<ellipse cx="824.5" cy="31.1" rx="1.9" ry="1.6" fill="#66657f" opacity="0.91"/>
<ellipse cx="826.4" cy="29.7" rx="2.0" ry="1.9" fill="#55546e" opacity="0.71"/>
<ellipse cx="823.6" cy="29.3" rx="1.6" ry="1.3" fill="#4b4a66" opacity="0.79"/>
<ellipse cx="823.5" cy="28.4" rx="2.1" ry="1.7" fill="#5e5d77" opacity="0.93"/>
<ellipse cx="821.1" cy="27.1" rx="1.8" ry="1.7" fill="#4b4a66" opacity="0.80"/>
<ellipse cx="821.5" cy="25.6" rx="2.0" ry="1.9" fill="#55546e" opacity="0.76"/>
<ellipse cx="825.3" cy="26.2" rx="1.7" ry="1.6" fill="#4b4a66" opacity="0.81"/>
<ellipse cx="826.9" cy="26.2" rx="1.9" ry="1.4" fill="#504f6b" opacity="0.90"/>
<ellipse cx="826.8" cy="25.5" rx="1.8" ry="1.5" fill="#5e5d77" opacity="0.84"/>
<ellipse cx="824.6" cy="23.4" rx="2.4" ry="2.3" fill="#55546e" opacity="0.75"/>
<ellipse cx="825.8" cy="23.7" rx="2.4" ry="1.8" fill="#66657f" opacity="0.85"/>
<ellipse cx="828.4" cy="24.8" rx="1.8" ry="1.7" fill="#5e5d77" opacity="0.85"/>
<ellipse cx="826.2" cy="21.8" rx="1.7" ry="1.5" fill="#504f6b" opacity="0.82"/>
<ellipse cx="830.9" cy="24.3" rx="2.0" ry="1.7" fill="#55546e" opacity="0.75"/>
<ellipse cx="831.0" cy="23.2" rx="2.2" ry="2.2" fill="#66657f" opacity="0.82"/>
<ellipse cx="830.0" cy="20.0" rx="2.1" ry="1.6" fill="#4b4a66" opacity="0.88"/>
<ellipse cx="832.8" cy="23.1" rx="2.0" ry="1.4" fill="#4b4a66" opacity="0.90"/>
<ellipse cx="835.0" cy="23.9" rx="1.9" ry="1.4" fill="#504f6b" opacity="0.83"/>
<ellipse cx="835.1" cy="20.8" rx="1.6" ry="1.3" fill="#5e5d77" opacity="0.93"/>
<ellipse cx="836.6" cy="22.2" rx="2.4" ry="2.3" fill="#55546e" opacity="0.72"/>
<ellipse cx="838.4" cy="24.8" rx="2.1" ry="1.8" fill="#504f6b" opacity="0.81"/>
<ellipse cx="839.4" cy="24.0" rx="2.2" ry="1.9" fill="#4b4a66" opacity="0.81"/>
<ellipse cx="841.9" cy="23.1" rx="2.3" ry="2.1" fill="#5e5d77" opacity="0.93"/>
<ellipse cx="843.6" cy="22.4" rx="1.5" ry="1.3" fill="#504f6b" opacity="0.79"/>
<ellipse cx="843.8" cy="25.3" rx="2.3" ry="2.0" fill="#4b4a66" opacity="0.81"/>
<ellipse cx="845.4" cy="26.3" rx="1.6" ry="1.3" fill="#66657f" opacity="0.86"/>
<ellipse cx="848.5" cy="22.7" rx="2.4" ry="2.1" fill="#4b4a66" opacity="0.82"/>
<ellipse cx="849.2" cy="27.1" rx="2.0" ry="1.8" fill="#66657f" opacity="0.86"/>
<ellipse cx="851.3" cy="25.9" rx="2.3" ry="2.0" fill="#66657f" opacity="0.91"/>
<ellipse cx="851.8" cy="27.9" rx="1.7" ry="1.5" fill="#5e5d77" opacity="0.73"/>
<ellipse cx="855.7" cy="24.6" rx="1.7" ry="1.5" fill="#504f6b" opacity="0.72"/>
<ellipse cx="857.7" cy="25.5" rx="1.7" ry="1.4" fill="#504f6b" opacity="0.72"/>
<ellipse cx="856.9" cy="29.1" rx="2.1" ry="1.9" fill="#4b4a66" opacity="0.77"/>
<ellipse cx="859.1" cy="29.4" rx="1.7" ry="1.7" fill="#5e5d77" opacity="0.89"/>
<ellipse cx="860.9" cy="30.6" rx="1.5" ry="1.3" fill="#66657f" opacity="0.81"/>
<ellipse cx="860.5" cy="32.0" rx="2.0" ry="1.8" fill="#66657f" opacity="0.95"/>
<ellipse cx="862.7" cy="32.1" rx="2.2" ry="1.7" fill="#4b4a66" opacity="0.72"/>
<ellipse cx="866.3" cy="30.9" rx="2.3" ry="2.2" fill="#5e5d77" opacity="0.91"/>
<ellipse cx="867.7" cy="32.1" rx="2.3" ry="1.7" fill="#504f6b" opacity="0.95"/>
<ellipse cx="868.7" cy="34.3" rx="1.9" ry="1.7" fill="#5e5d77" opacity="0.84"/>
<ellipse cx="869.5" cy="34.2" rx="2.0" ry="1.8" fill="#504f6b" opacity="0.90"/>
<ellipse cx="866.7" cy="36.8" rx="2.1" ry="1.9" fill="#504f6b" opacity="0.87"/>
<ellipse cx="866.1" cy="37.5" rx="2.1" ry="1.9" fill="#504f6b" opacity="0.93"/>
<ellipse cx="869.5" cy="38.0" rx="2.0" ry="1.7" fill="#4b4a66" opacity="0.75"/>
<ellipse cx="866.8" cy="38.6" rx="1.5" ry="1.3" fill="#5e5d77" opacity="0.89"/>
<ellipse cx="869.6" cy="39.6" rx="1.7" ry="1.3" fill="#504f6b" opacity="0.79"/>
<ellipse cx="870.0" cy="40.8" rx="1.7" ry="1.3" fill="#504f6b" opacity="0.90"/>
<ellipse cx="870.2" cy="41.2" rx="1.6" ry="1.5" fill="#66657f" opacity="0.85"/>
<ellipse cx="869.4" cy="41.9" rx="1.9" ry="1.8" fill="#55546e" opacity="0.75"/>
</g>
<g fill="#3c3b55" filter="url(#b05)">
<circle cx="882.9" cy="27.4" r="1.5"/>
<circle cx="886.4" cy="30.8" r="1.7"/>
<circle cx="889.0" cy="34.3" r="1.7"/>
<circle cx="893.3" cy="36.0" r="1.6"/>
<circle cx="900.2" cy="30.8" r="1.7"/>
<circle cx="902.7" cy="17.0" r="1.3"/>
<circle cx="907.0" cy="17.9" r="1.7"/>
<circle cx="910.5" cy="19.6" r="1.4"/>
<circle cx="920.8" cy="30.8" r="1.2"/>
<circle cx="927.7" cy="30.0" r="1.2"/>
<circle cx="931.1" cy="28.2" r="1.2"/>
<circle cx="936.3" cy="37.7" r="1.6"/>
<circle cx="917.4" cy="40.3" r="1.1"/>
<circle cx="913.1" cy="36.0" r="1.1"/>
<circle cx="908.8" cy="37.7" r="1.4"/>
<circle cx="901.9" cy="43.7" r="1.6"/>
<circle cx="889.8" cy="51.5" r="1.2"/>
<circle cx="831.3" cy="56.6" r="1.2"/>
<circle cx="821.0" cy="52.3" r="1.6"/>
<circle cx="810.7" cy="45.4" r="1.5"/>
<circle cx="808.1" cy="25.7" r="1.3"/>
<circle cx="815.8" cy="30.8" r="1.4"/>
<circle cx="802.0" cy="36.0" r="1.5"/>
<circle cx="959.5" cy="18.8" r="1.7"/>
<circle cx="962.1" cy="21.4" r="1.5"/>
<circle cx="949.2" cy="17.9" r="1.4"/>
<circle cx="968.1" cy="110.0" r="1.3"/>
<circle cx="979.3" cy="110.9" r="1.6"/>
<circle cx="981.9" cy="116.9" r="1.3"/>
<circle cx="977.6" cy="108.3" r="1.7"/>
<circle cx="945.8" cy="111.7" r="1.2"/>
<circle cx="938.0" cy="110.0" r="1.2"/>
<circle cx="946.6" cy="94.5" r="1.5"/>
<circle cx="969.9" cy="73.8" r="1.5"/>
<circle cx="970.7" cy="70.4" r="1.6"/>
<circle cx="925.1" cy="56.6" r="1.3"/>
<circle cx="886.4" cy="84.2" r="1.4"/>
<circle cx="870.9" cy="80.7" r="1.1"/>
<circle cx="802.9" cy="103.1" r="1.2"/>
<circle cx="804.6" cy="97.9" r="1.4"/>
<circle cx="807.2" cy="91.1" r="1.2"/>
<circle cx="991.4" cy="73.8" r="1.3"/>
<circle cx="990.5" cy="56.6" r="1.5"/>
<circle cx="944.9" cy="33.4" r="1.2"/>
<circle cx="938.0" cy="33.4" r="1.3"/>
</g>
</g>
<g clip-path="url(#c2)">
<rect x="1000.3" y="12.6" width="199.8" height="117.8" fill="#a9a8b4" filter="url(#tx2)"/>
<g filter="url(#b05)">
<ellipse cx="1185.6" cy="52.2" rx="2.3" ry="1.7" fill="#737a96" opacity="0.84"/>
<ellipse cx="1090.9" cy="49.3" rx="3.2" ry="2.8" fill="#6e7592" opacity="0.82"/>
<ellipse cx="1154.3" cy="73.8" rx="3.6" ry="3.4" fill="#6e7592" opacity="0.90"/>
<ellipse cx="1069.2" cy="64.1" rx="2.7" ry="1.9" fill="#6a7290" opacity="0.72"/>
<ellipse cx="1173.5" cy="44.2" rx="2.9" ry="2.8" fill="#737a96" opacity="0.78"/>
<ellipse cx="1105.8" cy="81.0" rx="2.8" ry="2.0" fill="#6e7592" opacity="0.72"/>
<ellipse cx="1061.2" cy="70.2" rx="3.9" ry="3.2" fill="#7b819b" opacity="0.84"/>
<ellipse cx="1153.8" cy="43.1" rx="3.5" ry="2.9" fill="#7b819b" opacity="0.65"/>
<ellipse cx="1106.5" cy="22.0" rx="3.0" ry="2.6" fill="#7b819b" opacity="0.69"/>
<ellipse cx="1063.7" cy="74.3" rx="3.6" ry="3.2" fill="#7b819b" opacity="0.89"/>
<ellipse cx="1061.9" cy="84.1" rx="3.8" ry="3.5" fill="#7b819b" opacity="0.81"/>
<ellipse cx="1164.0" cy="52.0" rx="3.6" ry="3.5" fill="#6e7592" opacity="0.69"/>
<ellipse cx="1130.3" cy="59.0" rx="3.8" ry="3.5" fill="#6e7592" opacity="0.78"/>
<ellipse cx="1057.6" cy="71.8" rx="2.9" ry="2.7" fill="#7b819b" opacity="0.76"/>
<ellipse cx="1149.2" cy="55.5" rx="2.3" ry="2.2" fill="#6a7290" opacity="0.89"/>
<ellipse cx="1125.6" cy="124.3" rx="2.3" ry="2.1" fill="#626a89" opacity="0.79"/>
<ellipse cx="1105.7" cy="56.1" rx="2.7" ry="2.5" fill="#6a7290" opacity="0.74"/>
<ellipse cx="1103.3" cy="65.7" rx="2.8" ry="2.1" fill="#6a7290" opacity="0.63"/>
<ellipse cx="1112.6" cy="71.8" rx="3.4" ry="2.4" fill="#626a89" opacity="0.64"/>
<ellipse cx="1156.8" cy="53.0" rx="3.1" ry="2.2" fill="#6e7592" opacity="0.61"/>
<ellipse cx="1124.8" cy="72.7" rx="2.3" ry="1.8" fill="#6e7592" opacity="0.80"/>
<ellipse cx="1104.7" cy="47.0" rx="3.0" ry="2.4" fill="#6e7592" opacity="0.85"/>
<ellipse cx="1094.4" cy="38.3" rx="2.6" ry="2.3" fill="#626a89" opacity="0.87"/>
<ellipse cx="1165.1" cy="82.6" rx="3.8" ry="3.3" fill="#7b819b" opacity="0.76"/>
<ellipse cx="1090.6" cy="95.3" rx="3.9" ry="3.4" fill="#6e7592" opacity="0.91"/>
<ellipse cx="1092.6" cy="51.9" rx="2.4" ry="1.8" fill="#7b819b" opacity="0.80"/>
<ellipse cx="1006.7" cy="69.0" rx="3.8" ry="3.8" fill="#737a96" opacity="0.83"/>
<ellipse cx="1117.8" cy="79.8" rx="2.6" ry="2.4" fill="#6e7592" opacity="0.83"/>
<ellipse cx="1103.7" cy="108.1" rx="3.1" ry="2.2" fill="#6a7290" opacity="0.72"/>
<ellipse cx="1127.2" cy="107.0" rx="2.3" ry="1.7" fill="#6a7290" opacity="0.66"/>
<ellipse cx="1107.9" cy="96.6" rx="3.1" ry="2.6" fill="#626a89" opacity="0.77"/>
<ellipse cx="1067.0" cy="107.9" rx="3.5" ry="2.7" fill="#7b819b" opacity="0.74"/>
<ellipse cx="1150.8" cy="79.7" rx="3.7" ry="3.6" fill="#6e7592" opacity="0.66"/>
<ellipse cx="1156.7" cy="106.6" rx="2.8" ry="2.4" fill="#6a7290" opacity="0.80"/>
<ellipse cx="1100.5" cy="78.5" rx="3.4" ry="2.5" fill="#626a89" opacity="0.66"/>
<ellipse cx="1109.8" cy="63.2" rx="3.3" ry="2.8" fill="#6e7592" opacity="0.80"/>
<ellipse cx="1112.8" cy="74.1" rx="2.7" ry="2.5" fill="#737a96" opacity="0.84"/>
<ellipse cx="1121.0" cy="113.7" rx="2.9" ry="2.4" fill="#626a89" opacity="0.73"/>
<ellipse cx="1117.8" cy="85.4" rx="2.3" ry="2.2" fill="#7b819b" opacity="0.91"/>
<ellipse cx="1102.4" cy="67.0" rx="3.3" ry="3.1" fill="#7b819b" opacity="0.69"/>
<ellipse cx="1123.6" cy="69.3" rx="2.8" ry="2.4" fill="#7b819b" opacity="0.83"/>
<ellipse cx="1100.2" cy="40.1" rx="3.0" ry="2.7" fill="#7b819b" opacity="0.67"/>
<ellipse cx="1078.5" cy="75.6" rx="2.9" ry="2.6" fill="#6a7290" opacity="0.79"/>
<ellipse cx="1111.5" cy="60.5" rx="2.8" ry="2.8" fill="#737a96" opacity="0.86"/>
<ellipse cx="1154.6" cy="38.9" rx="3.7" ry="3.4" fill="#6a7290" opacity="0.64"/>
<ellipse cx="1098.0" cy="96.6" rx="3.3" ry="3.0" fill="#7b819b" opacity="0.66"/>
<ellipse cx="1100.5" cy="92.4" rx="3.9" ry="3.8" fill="#7b819b" opacity="0.63"/>
<ellipse cx="1050.9" cy="68.5" rx="2.6" ry="2.6" fill="#7b819b" opacity="0.90"/>
<ellipse cx="1068.3" cy="117.0" rx="3.4" ry="2.9" fill="#6a7290" opacity="0.86"/>
<ellipse cx="1063.4" cy="109.6" rx="2.9" ry="2.1" fill="#626a89" opacity="0.73"/>
<ellipse cx="1094.4" cy="38.3" rx="3.8" ry="3.1" fill="#6a7290" opacity="0.84"/>
<ellipse cx="1119.9" cy="55.1" rx="3.3" ry="2.7" fill="#7b819b" opacity="0.91"/>
<ellipse cx="1101.7" cy="70.1" rx="3.0" ry="2.7" fill="#7b819b" opacity="0.81"/>
<ellipse cx="1107.7" cy="68.3" rx="3.8" ry="3.5" fill="#6e7592" opacity="0.72"/>
<ellipse cx="1071.3" cy="100.5" rx="3.6" ry="2.8" fill="#6e7592" opacity="0.79"/>
<ellipse cx="1057.9" cy="76.7" rx="2.2" ry="2.0" fill="#7b819b" opacity="0.68"/>
<ellipse cx="1069.8" cy="59.0" rx="2.5" ry="2.5" fill="#6a7290" opacity="0.71"/>
<ellipse cx="1140.4" cy="51.3" rx="3.3" ry="2.4" fill="#6e7592" opacity="0.76"/>
<ellipse cx="1091.0" cy="47.5" rx="2.7" ry="2.3" fill="#6a7290" opacity="0.92"/>
<ellipse cx="1081.1" cy="54.1" rx="3.5" ry="3.4" fill="#7b819b" opacity="0.68"/>
<ellipse cx="1059.1" cy="30.0" rx="3.4" ry="2.5" fill="#7b819b" opacity="0.72"/>
<ellipse cx="1077.1" cy="79.9" rx="2.2" ry="1.9" fill="#6a7290" opacity="0.72"/>
<ellipse cx="1072.3" cy="66.3" rx="3.0" ry="2.8" fill="#626a89" opacity="0.76"/>
<ellipse cx="1140.4" cy="111.0" rx="3.4" ry="2.7" fill="#626a89" opacity="0.86"/>
<ellipse cx="1088.6" cy="118.3" rx="3.6" ry="3.2" fill="#7b819b" opacity="0.77"/>
<ellipse cx="1141.2" cy="55.2" rx="2.6" ry="2.2" fill="#737a96" opacity="0.86"/>
<ellipse cx="1084.8" cy="53.5" rx="2.6" ry="2.2" fill="#737a96" opacity="0.77"/>
<ellipse cx="1120.7" cy="79.8" rx="3.3" ry="3.1" fill="#626a89" opacity="0.67"/>
<ellipse cx="1085.9" cy="97.1" rx="2.8" ry="2.4" fill="#626a89" opacity="0.75"/>
<ellipse cx="1141.7" cy="112.7" rx="3.9" ry="3.0" fill="#626a89" opacity="0.70"/>
<ellipse cx="1125.7" cy="88.0" rx="2.5" ry="2.3" fill="#626a89" opacity="0.66"/>
<ellipse cx="1117.0" cy="87.5" rx="2.7" ry="2.3" fill="#7b819b" opacity="0.73"/>
<ellipse cx="1119.2" cy="47.1" rx="3.7" ry="3.6" fill="#6e7592" opacity="0.79"/>
<ellipse cx="1101.8" cy="45.3" rx="2.9" ry="2.6" fill="#626a89" opacity="0.77"/>
<ellipse cx="1096.4" cy="64.2" rx="2.7" ry="2.3" fill="#626a89" opacity="0.91"/>
<ellipse cx="1081.3" cy="103.4" rx="3.7" ry="2.8" fill="#7b819b" opacity="0.64"/>
<ellipse cx="1136.7" cy="79.2" rx="2.8" ry="2.7" fill="#7b819b" opacity="0.60"/>
<ellipse cx="1069.6" cy="51.0" rx="3.0" ry="2.9" fill="#626a89" opacity="0.70"/>
<ellipse cx="1118.9" cy="67.3" rx="2.4" ry="1.9" fill="#626a89" opacity="0.65"/>
<ellipse cx="1095.6" cy="84.7" rx="2.5" ry="2.3" fill="#6e7592" opacity="0.61"/>
<ellipse cx="1151.4" cy="56.5" rx="3.2" ry="3.1" fill="#737a96" opacity="0.87"/>
<ellipse cx="1051.1" cy="98.1" rx="2.4" ry="2.1" fill="#6a7290" opacity="0.71"/>
<ellipse cx="1110.5" cy="29.2" rx="2.9" ry="2.9" fill="#7b819b" opacity="0.85"/>
<ellipse cx="1035.6" cy="78.1" rx="3.1" ry="2.8" fill="#6a7290" opacity="0.79"/>
<ellipse cx="1008.4" cy="51.1" rx="3.9" ry="3.7" fill="#7b819b" opacity="0.65"/>
<ellipse cx="1076.7" cy="97.4" rx="3.7" ry="3.1" fill="#6e7592" opacity="0.64"/>
<ellipse cx="1153.1" cy="54.9" rx="3.8" ry="2.7" fill="#626a89" opacity="0.75"/>
<ellipse cx="1098.2" cy="49.8" rx="3.3" ry="2.6" fill="#6a7290" opacity="0.65"/>
<ellipse cx="1097.9" cy="61.3" rx="3.9" ry="3.4" fill="#6a7290" opacity="0.87"/>
<ellipse cx="1092.7" cy="75.7" rx="2.4" ry="1.7" fill="#6e7592" opacity="0.77"/>
<ellipse cx="1146.4" cy="86.1" rx="2.2" ry="2.1" fill="#626a89" opacity="0.82"/>
<ellipse cx="1118.6" cy="61.2" rx="3.0" ry="2.2" fill="#6a7290" opacity="0.68"/>
<ellipse cx="1045.0" cy="86.1" rx="3.2" ry="2.9" fill="#626a89" opacity="0.80"/>
<ellipse cx="1152.2" cy="18.9" rx="3.4" ry="2.9" fill="#737a96" opacity="0.76"/>
<ellipse cx="1115.0" cy="57.6" rx="3.8" ry="2.9" fill="#737a96" opacity="0.70"/>
<ellipse cx="1072.2" cy="88.4" rx="2.9" ry="2.7" fill="#6a7290" opacity="0.78"/>
<ellipse cx="1077.4" cy="78.4" rx="3.5" ry="3.5" fill="#737a96" opacity="0.73"/>
<ellipse cx="1133.3" cy="105.2" rx="2.4" ry="2.1" fill="#737a96" opacity="0.67"/>
<ellipse cx="1097.6" cy="79.7" rx="2.4" ry="1.7" fill="#626a89" opacity="0.82"/>
<ellipse cx="1094.5" cy="75.4" rx="3.5" ry="3.3" fill="#737a96" opacity="0.79"/>
<ellipse cx="1127.2" cy="79.0" rx="2.4" ry="2.1" fill="#6e7592" opacity="0.89"/>
<ellipse cx="1106.4" cy="59.5" rx="3.4" ry="3.2" fill="#626a89" opacity="0.91"/>
<ellipse cx="1121.9" cy="98.1" rx="3.6" ry="3.4" fill="#6e7592" opacity="0.78"/>
<ellipse cx="1074.7" cy="91.5" rx="3.4" ry="2.9" fill="#6a7290" opacity="0.80"/>
<ellipse cx="1140.8" cy="77.2" rx="2.6" ry="2.4" fill="#6e7592" opacity="0.77"/>
<ellipse cx="1125.6" cy="63.8" rx="3.5" ry="3.2" fill="#7b819b" opacity="0.88"/>
<ellipse cx="1138.4" cy="67.9" rx="3.2" ry="2.9" fill="#6e7592" opacity="0.75"/>
<ellipse cx="1118.9" cy="108.3" rx="3.2" ry="2.5" fill="#737a96" opacity="0.72"/>
<ellipse cx="1077.9" cy="47.5" rx="3.5" ry="3.1" fill="#6e7592" opacity="0.88"/>
<ellipse cx="1092.9" cy="48.3" rx="2.6" ry="2.4" fill="#626a89" opacity="0.63"/>
<ellipse cx="1107.2" cy="66.1" rx="3.9" ry="2.8" fill="#6e7592" opacity="0.68"/>
<ellipse cx="1100.1" cy="44.3" rx="2.9" ry="2.4" fill="#6a7290" opacity="0.69"/>
<ellipse cx="1083.9" cy="63.7" rx="2.5" ry="2.3" fill="#6a7290" opacity="0.80"/>
<ellipse cx="1078.8" cy="82.5" rx="2.3" ry="2.0" fill="#737a96" opacity="0.65"/>
<ellipse cx="1125.9" cy="64.0" rx="3.4" ry="3.3" fill="#6e7592" opacity="0.80"/>
<ellipse cx="1077.8" cy="94.8" rx="3.3" ry="2.9" fill="#626a89" opacity="0.81"/>
<ellipse cx="1136.1" cy="108.7" rx="2.9" ry="2.4" fill="#7b819b" opacity="0.73"/>
<ellipse cx="1071.9" cy="78.9" rx="2.6" ry="2.0" fill="#6e7592" opacity="0.77"/>
<ellipse cx="1140.5" cy="44.7" rx="3.1" ry="2.2" fill="#7b819b" opacity="0.83"/>
<ellipse cx="1071.4" cy="96.7" rx="2.4" ry="2.0" fill="#6e7592" opacity="0.90"/>
<ellipse cx="1092.0" cy="74.4" rx="3.0" ry="2.7" fill="#626a89" opacity="0.61"/>
<ellipse cx="1087.2" cy="76.2" rx="2.4" ry="1.9" fill="#6e7592" opacity="0.62"/>
<ellipse cx="1122.8" cy="95.5" rx="3.5" ry="3.1" fill="#6e7592" opacity="0.63"/>
<ellipse cx="1087.4" cy="43.1" rx="2.4" ry="1.9" fill="#626a89" opacity="0.75"/>
<ellipse cx="1135.5" cy="63.4" rx="2.8" ry="2.7" fill="#6e7592" opacity="0.72"/>
<ellipse cx="1080.5" cy="54.7" rx="3.6" ry="3.5" fill="#626a89" opacity="0.86"/>
<ellipse cx="1137.8" cy="50.1" rx="3.8" ry="2.7" fill="#626a89" opacity="0.74"/>
<ellipse cx="1083.8" cy="51.3" rx="3.9" ry="3.3" fill="#6a7290" opacity="0.88"/>
<ellipse cx="1143.2" cy="92.8" rx="3.2" ry="2.7" fill="#7b819b" opacity="0.68"/>
<ellipse cx="1124.9" cy="114.9" rx="2.2" ry="2.1" fill="#626a89" opacity="0.82"/>
<ellipse cx="1130.2" cy="80.0" rx="3.5" ry="3.4" fill="#7b819b" opacity="0.62"/>
<ellipse cx="1127.1" cy="61.1" rx="3.1" ry="2.3" fill="#7b819b" opacity="0.63"/>
<ellipse cx="1132.5" cy="39.4" rx="2.6" ry="2.2" fill="#6e7592" opacity="0.89"/>
<ellipse cx="1051.2" cy="99.1" rx="2.5" ry="1.8" fill="#626a89" opacity="0.62"/>
<ellipse cx="1126.3" cy="68.4" rx="3.6" ry="3.5" fill="#6e7592" opacity="0.90"/>
<ellipse cx="1120.3" cy="28.9" rx="2.5" ry="2.2" fill="#737a96" opacity="0.87"/>
<ellipse cx="1013.4" cy="103.2" rx="2.3" ry="1.9" fill="#737a96" opacity="0.72"/>
<ellipse cx="1047.0" cy="103.1" rx="2.6" ry="2.2" fill="#7b819b" opacity="0.57"/>
<ellipse cx="1036.4" cy="121.2" rx="2.5" ry="2.1" fill="#6a7290" opacity="0.79"/>
<ellipse cx="1051.1" cy="95.5" rx="2.4" ry="2.1" fill="#6a7290" opacity="0.84"/>
<ellipse cx="1045.3" cy="114.1" rx="3.0" ry="2.5" fill="#737a96" opacity="0.66"/>
<ellipse cx="1038.1" cy="112.5" rx="2.9" ry="2.4" fill="#737a96" opacity="0.69"/>
<ellipse cx="1044.2" cy="110.4" rx="3.3" ry="2.8" fill="#626a89" opacity="0.65"/>
<ellipse cx="1041.9" cy="125.4" rx="3.0" ry="2.6" fill="#7b819b" opacity="0.54"/>
<ellipse cx="1049.2" cy="116.0" rx="2.6" ry="2.2" fill="#7b819b" opacity="0.66"/>
<ellipse cx="1076.4" cy="119.0" rx="3.0" ry="2.6" fill="#6e7592" opacity="0.62"/>
<ellipse cx="1013.5" cy="117.4" rx="2.9" ry="2.5" fill="#7b819b" opacity="0.66"/>
<ellipse cx="1058.0" cy="119.4" rx="2.2" ry="1.9" fill="#626a89" opacity="0.82"/>
<ellipse cx="1047.0" cy="108.4" rx="2.9" ry="2.5" fill="#626a89" opacity="0.73"/>
<ellipse cx="1054.7" cy="108.3" rx="2.1" ry="1.7" fill="#7b819b" opacity="0.54"/>
<ellipse cx="1002.7" cy="123.3" rx="2.5" ry="2.1" fill="#626a89" opacity="0.76"/>
<ellipse cx="1016.0" cy="123.2" rx="2.5" ry="2.1" fill="#6a7290" opacity="0.68"/>
<ellipse cx="1039.9" cy="115.8" rx="2.3" ry="2.0" fill="#6a7290" opacity="0.71"/>
<ellipse cx="1029.2" cy="104.9" rx="2.2" ry="1.9" fill="#6a7290" opacity="0.50"/>
<ellipse cx="1034.0" cy="116.9" rx="2.9" ry="2.4" fill="#6a7290" opacity="0.81"/>
<ellipse cx="1052.5" cy="114.3" rx="2.3" ry="2.0" fill="#6e7592" opacity="0.61"/>
<ellipse cx="1028.3" cy="121.4" rx="2.5" ry="2.2" fill="#6e7592" opacity="0.75"/>
<ellipse cx="1038.7" cy="104.1" rx="2.7" ry="2.3" fill="#6e7592" opacity="0.63"/>
<ellipse cx="1030.5" cy="107.3" rx="3.1" ry="2.7" fill="#737a96" opacity="0.69"/>
<ellipse cx="1053.3" cy="116.0" rx="2.3" ry="1.9" fill="#7b819b" opacity="0.58"/>
<ellipse cx="1070.2" cy="114.7" rx="2.7" ry="2.3" fill="#737a96" opacity="0.50"/>
<ellipse cx="1062.6" cy="120.0" rx="2.9" ry="2.5" fill="#737a96" opacity="0.75"/>
<ellipse cx="1050.0" cy="100.8" rx="2.7" ry="2.3" fill="#6a7290" opacity="0.78"/>
<ellipse cx="1012.5" cy="101.7" rx="3.0" ry="2.5" fill="#6a7290" opacity="0.72"/>
<ellipse cx="1038.0" cy="116.5" rx="3.0" ry="2.6" fill="#626a89" opacity="0.64"/>
<ellipse cx="1068.1" cy="94.9" rx="3.2" ry="2.7" fill="#626a89" opacity="0.51"/>
<ellipse cx="1030.8" cy="107.6" rx="2.1" ry="1.8" fill="#7b819b" opacity="0.56"/>
<ellipse cx="1065.6" cy="124.8" rx="2.6" ry="2.2" fill="#6a7290" opacity="0.59"/>
<ellipse cx="1070.8" cy="113.0" rx="3.3" ry="2.8" fill="#6e7592" opacity="0.75"/>
<ellipse cx="1025.0" cy="126.0" rx="2.8" ry="2.4" fill="#6e7592" opacity="0.57"/>
<ellipse cx="1034.9" cy="98.8" rx="2.8" ry="2.4" fill="#7b819b" opacity="0.82"/>
<ellipse cx="1069.8" cy="118.5" rx="2.6" ry="2.2" fill="#6a7290" opacity="0.55"/>
<ellipse cx="1020.0" cy="115.8" rx="2.9" ry="2.5" fill="#6a7290" opacity="0.80"/>
<ellipse cx="1014.2" cy="126.2" rx="2.0" ry="1.7" fill="#6a7290" opacity="0.60"/>
<ellipse cx="1031.4" cy="97.0" rx="3.1" ry="2.7" fill="#6e7592" opacity="0.55"/>
<ellipse cx="1012.3" cy="109.1" rx="3.0" ry="2.6" fill="#626a89" opacity="0.69"/>
</g>
<g filter="url(#b1)">
<circle cx="1079.3" cy="32.5" r="4.5" fill="#c6c3c2" opacity="0.6"/>
<circle cx="1077.6" cy="58.4" r="5.5" fill="#c6c3c2" opacity="0.6"/>
<circle cx="1032.0" cy="71.3" r="5.5" fill="#c6c3c2" opacity="0.6"/>
<circle cx="1117.2" cy="67.8" r="4" fill="#c6c3c2" opacity="0.6"/>
<circle cx="1120.6" cy="101.4" r="3.5" fill="#c6c3c2" opacity="0.6"/>
<circle cx="1152.5" cy="115.2" r="4" fill="#c6c3c2" opacity="0.6"/>
<circle cx="1082.8" cy="97.9" r="4.5" fill="#c6c3c2" opacity="0.6"/>
<circle cx="1105.2" cy="108.3" r="3.5" fill="#c6c3c2" opacity="0.6"/>
<circle cx="1184.3" cy="70.4" r="5" fill="#c6c3c2" opacity="0.6"/>
<circle cx="1182.6" cy="106.5" r="4" fill="#c6c3c2" opacity="0.6"/>
<circle cx="1091.4" cy="84.2" r="3.5" fill="#c6c3c2" opacity="0.6"/>
<circle cx="1079.3" cy="32.5" r="1.6" fill="#8f6a50" opacity="0.6"/>
<circle cx="1117.2" cy="67.8" r="1.6" fill="#8f6a50" opacity="0.6"/>
<circle cx="1152.5" cy="115.2" r="1.6" fill="#8f6a50" opacity="0.6"/>
<circle cx="1120.6" cy="101.4" r="1.6" fill="#8f6a50" opacity="0.6"/>
<circle cx="1032.0" cy="71.3" r="1.6" fill="#8f6a50" opacity="0.6"/>
<ellipse cx="1026.8" cy="61.8" rx="12" ry="4.2" fill="#27305a" transform="rotate(8 1026.8 61.8)"/>
<ellipse cx="1168.8" cy="17.0" rx="9" ry="3" fill="#39426a" transform="rotate(5 1168.8 17.0)"/>
</g>
<g fill="#2b2c44" filter="url(#b05)">
<circle cx="1003.1" cy="15.2" r="1.3" opacity="0.85"/>
<circle cx="1147.3" cy="126.8" r="1.3" opacity="0.85"/>
<circle cx="1125.1" cy="124.6" r="1.0" opacity="0.85"/>
<circle cx="1049.9" cy="52.3" r="1.4" opacity="0.85"/>
<circle cx="1011.0" cy="27.1" r="1.4" opacity="0.85"/>
<circle cx="1033.2" cy="18.2" r="1.2" opacity="0.85"/>
<circle cx="1047.5" cy="24.2" r="1.0" opacity="0.85"/>
<circle cx="1012.8" cy="32.9" r="1.3" opacity="0.85"/>
<circle cx="1050.7" cy="28.6" r="1.3" opacity="0.85"/>
<circle cx="1022.1" cy="22.3" r="1.3" opacity="0.85"/>
<circle cx="1004.4" cy="43.3" r="1.2" opacity="0.85"/>
<circle cx="1108.4" cy="118.0" r="1.0" opacity="0.85"/>
<circle cx="1132.3" cy="85.6" r="1.3" opacity="0.85"/>
<circle cx="1033.3" cy="27.7" r="1.0" opacity="0.85"/>
<circle cx="1047.6" cy="53.9" r="1.1" opacity="0.85"/>
<circle cx="1111.2" cy="53.1" r="1.0" opacity="0.85"/>
<circle cx="1010.1" cy="54.9" r="1.4" opacity="0.85"/>
<circle cx="1061.1" cy="63.3" r="0.9" opacity="0.85"/>
<circle cx="1026.6" cy="43.5" r="1.0" opacity="0.85"/>
<circle cx="1002.0" cy="48.0" r="1.1" opacity="0.85"/>
<circle cx="1052.5" cy="41.1" r="1.2" opacity="0.85"/>
<circle cx="1049.5" cy="27.5" r="1.2" opacity="0.85"/>
<circle cx="1051.2" cy="46.8" r="1.0" opacity="0.85"/>
<circle cx="1049.0" cy="26.9" r="1.2" opacity="0.85"/>
<circle cx="1003.4" cy="120.6" r="1.4" opacity="0.85"/>
<circle cx="1028.8" cy="18.3" r="1.2" opacity="0.85"/>
<circle cx="1045.0" cy="107.7" r="1.3" opacity="0.85"/>
<circle cx="1059.5" cy="32.7" r="1.4" opacity="0.85"/>
<circle cx="1015.7" cy="107.6" r="1.0" opacity="0.85"/>
<circle cx="1032.0" cy="45.5" r="1.0" opacity="0.85"/>
<circle cx="1047.9" cy="16.3" r="1.4" opacity="0.85"/>
<circle cx="1033.9" cy="27.2" r="1.3" opacity="0.85"/>
<circle cx="1048.2" cy="52.3" r="1.2" opacity="0.85"/>
<circle cx="1056.7" cy="44.4" r="0.9" opacity="0.85"/>
<circle cx="1038.2" cy="31.3" r="0.9" opacity="0.85"/>
<circle cx="1047.7" cy="22.7" r="1.1" opacity="0.85"/>
<circle cx="1057.9" cy="41.7" r="1.0" opacity="0.85"/>
<circle cx="1004.7" cy="30.0" r="1.2" opacity="0.85"/>
<circle cx="1065.1" cy="62.3" r="1.0" opacity="0.85"/>
<circle cx="1138.7" cy="48.4" r="1.3" opacity="0.85"/>
<circle cx="1012.0" cy="47.8" r="1.4" opacity="0.85"/>
<circle cx="1074.0" cy="126.2" r="1.3" opacity="0.85"/>
<circle cx="1046.3" cy="34.5" r="1.4" opacity="0.85"/>
<circle cx="1003.3" cy="38.0" r="1.3" opacity="0.85"/>
<circle cx="1051.5" cy="46.9" r="0.9" opacity="0.85"/>
<circle cx="1117.4" cy="120.9" r="1.4" opacity="0.85"/>
<circle cx="1008.1" cy="42.5" r="1.3" opacity="0.85"/>
<circle cx="1026.0" cy="24.4" r="1.4" opacity="0.85"/>
</g>
</g>
<g clip-path="url(#c3)">
<rect x="796.2" y="165.2" width="199.6" height="116.6" fill="#a5979b" filter="url(#tx3)"/>
<g filter="url(#b1)">
<ellipse cx="908.8" cy="200.6" rx="11" ry="2.5" fill="#d6cfce" opacity="0.85" transform="rotate(-20 908.8 200.6)"/>
<ellipse cx="876.1" cy="235.9" rx="9" ry="5" fill="#d6cfce" opacity="0.85" transform="rotate(20 876.1 235.9)"/>
<ellipse cx="969.0" cy="217.0" rx="7" ry="8" fill="#d6cfce" opacity="0.85" transform="rotate(0 969.0 217.0)"/>
<ellipse cx="965.6" cy="254.8" rx="14" ry="2.5" fill="#d6cfce" opacity="0.85" transform="rotate(15 965.6 254.8)"/>
<ellipse cx="802.0" cy="237.6" rx="3" ry="9" fill="#d6cfce" opacity="0.85" transform="rotate(-10 802.0 237.6)"/>
<ellipse cx="895.0" cy="251.4" rx="3" ry="9" fill="#d6cfce" opacity="0.85" transform="rotate(-25 895.0 251.4)"/>
<ellipse cx="870.9" cy="263.4" rx="8" ry="4" fill="#d6cfce" opacity="0.85" transform="rotate(10 870.9 263.4)"/>
<ellipse cx="893.3" cy="215.2" rx="2" ry="9" fill="#d6cfce" opacity="0.85" transform="rotate(5 893.3 215.2)"/>
<ellipse cx="848.5" cy="220.4" rx="6" ry="2" fill="#d6cfce" opacity="0.85" transform="rotate(30 848.5 220.4)"/>
<ellipse cx="817.5" cy="184.3" rx="12" ry="3" fill="#d6cfce" opacity="0.85" transform="rotate(5 817.5 184.3)"/>
<ellipse cx="987.9" cy="211.8" rx="6" ry="5" fill="#d6cfce" opacity="0.85" transform="rotate(0 987.9 211.8)"/>
<ellipse cx="944.9" cy="208.4" rx="5" ry="4" fill="#d6cfce" opacity="0.85" transform="rotate(0 944.9 208.4)"/>
<ellipse cx="833.0" cy="244.5" rx="7" ry="2" fill="#d6cfce" opacity="0.85" transform="rotate(-10 833.0 244.5)"/>
<ellipse cx="979.3" cy="173.9" rx="4" ry="3" fill="#d6cfce" opacity="0.85" transform="rotate(0 979.3 173.9)"/>
<ellipse cx="926.0" cy="275.5" rx="8" ry="2.5" fill="#d6cfce" opacity="0.85" transform="rotate(0 926.0 275.5)"/>
<circle cx="914.7" cy="260.4" r="2.0" fill="none" stroke="#69647f" stroke-width="1.3" opacity="0.71"/>
<circle cx="898.9" cy="216.2" r="1.6" fill="none" stroke="#69647f" stroke-width="1.3" opacity="0.79"/>
<circle cx="908.6" cy="245.2" r="2.8" fill="none" stroke="#69647f" stroke-width="1.3" opacity="0.66"/>
<circle cx="936.8" cy="195.4" r="2.4" fill="none" stroke="#69647f" stroke-width="1.3" opacity="0.55"/>
<circle cx="850.9" cy="179.7" r="2.2" fill="none" stroke="#69647f" stroke-width="1.3" opacity="0.76"/>
<circle cx="902.8" cy="214.5" r="2.5" fill="none" stroke="#69647f" stroke-width="1.3" opacity="0.71"/>
<circle cx="906.9" cy="230.8" r="2.6" fill="none" stroke="#69647f" stroke-width="1.3" opacity="0.67"/>
<circle cx="847.0" cy="256.1" r="2.1" fill="none" stroke="#69647f" stroke-width="1.3" opacity="0.83"/>
<circle cx="925.2" cy="214.7" r="1.8" fill="none" stroke="#69647f" stroke-width="1.3" opacity="0.58"/>
<circle cx="957.3" cy="217.1" r="2.4" fill="none" stroke="#69647f" stroke-width="1.3" opacity="0.61"/>
<circle cx="866.3" cy="222.5" r="2.0" fill="none" stroke="#69647f" stroke-width="1.3" opacity="0.70"/>
<circle cx="826.8" cy="191.8" r="2.4" fill="none" stroke="#69647f" stroke-width="1.3" opacity="0.83"/>
<circle cx="897.8" cy="208.5" r="2.6" fill="none" stroke="#69647f" stroke-width="1.3" opacity="0.84"/>
<circle cx="958.4" cy="202.4" r="2.5" fill="none" stroke="#69647f" stroke-width="1.3" opacity="0.57"/>
<circle cx="939.1" cy="190.6" r="1.9" fill="none" stroke="#69647f" stroke-width="1.3" opacity="0.52"/>
<circle cx="978.7" cy="251.6" r="2.1" fill="none" stroke="#69647f" stroke-width="1.3" opacity="0.55"/>
<circle cx="889.6" cy="272.0" r="2.6" fill="none" stroke="#69647f" stroke-width="1.3" opacity="0.52"/>
<circle cx="900.3" cy="218.0" r="2.5" fill="none" stroke="#69647f" stroke-width="1.3" opacity="0.62"/>
<circle cx="903.9" cy="234.7" r="2.3" fill="none" stroke="#69647f" stroke-width="1.3" opacity="0.51"/>
<circle cx="925.4" cy="252.2" r="2.3" fill="none" stroke="#69647f" stroke-width="1.3" opacity="0.55"/>
<circle cx="945.2" cy="206.6" r="2.2" fill="none" stroke="#69647f" stroke-width="1.3" opacity="0.68"/>
<circle cx="873.2" cy="192.9" r="2.3" fill="none" stroke="#69647f" stroke-width="1.3" opacity="0.72"/>
<circle cx="960.0" cy="211.2" r="2.1" fill="none" stroke="#69647f" stroke-width="1.3" opacity="0.75"/>
<circle cx="913.4" cy="248.5" r="2.8" fill="none" stroke="#69647f" stroke-width="1.3" opacity="0.68"/>
<circle cx="904.0" cy="222.5" r="2.1" fill="none" stroke="#69647f" stroke-width="1.3" opacity="0.70"/>
<circle cx="971.9" cy="228.9" r="2.4" fill="none" stroke="#69647f" stroke-width="1.3" opacity="0.52"/>
<circle cx="875.5" cy="200.3" r="2.4" fill="none" stroke="#69647f" stroke-width="1.3" opacity="0.62"/>
<circle cx="890.9" cy="177.7" r="1.6" fill="none" stroke="#69647f" stroke-width="1.3" opacity="0.52"/>
<circle cx="910.1" cy="256.1" r="2.3" fill="none" stroke="#69647f" stroke-width="1.3" opacity="0.61"/>
<circle cx="885.0" cy="243.0" r="2.0" fill="none" stroke="#69647f" stroke-width="1.3" opacity="0.71"/>
<circle cx="896.9" cy="250.9" r="2.5" fill="none" stroke="#69647f" stroke-width="1.3" opacity="0.51"/>
<circle cx="844.3" cy="203.7" r="2.0" fill="none" stroke="#69647f" stroke-width="1.3" opacity="0.58"/>
<circle cx="921.4" cy="203.5" r="1.8" fill="none" stroke="#69647f" stroke-width="1.3" opacity="0.65"/>
<circle cx="903.8" cy="211.0" r="2.0" fill="none" stroke="#69647f" stroke-width="1.3" opacity="0.62"/>
<circle cx="934.6" cy="196.6" r="2.6" fill="none" stroke="#69647f" stroke-width="1.3" opacity="0.56"/>
<circle cx="876.9" cy="260.1" r="2.7" fill="none" stroke="#69647f" stroke-width="1.3" opacity="0.66"/>
<circle cx="914.0" cy="238.5" r="2.2" fill="none" stroke="#69647f" stroke-width="1.3" opacity="0.57"/>
<circle cx="940.3" cy="171.5" r="1.8" fill="none" stroke="#69647f" stroke-width="1.3" opacity="0.60"/>
<circle cx="933.0" cy="184.6" r="2.6" fill="none" stroke="#69647f" stroke-width="1.3" opacity="0.62"/>
<circle cx="936.0" cy="241.5" r="2.6" fill="none" stroke="#69647f" stroke-width="1.3" opacity="0.59"/>
<circle cx="884.0" cy="248.8" r="2.1" fill="none" stroke="#69647f" stroke-width="1.3" opacity="0.64"/>
<circle cx="933.4" cy="215.7" r="1.6" fill="none" stroke="#69647f" stroke-width="1.3" opacity="0.83"/>
<circle cx="810.1" cy="252.6" r="2.7" fill="none" stroke="#69647f" stroke-width="1.3" opacity="0.58"/>
<circle cx="908.1" cy="168.2" r="2.4" fill="none" stroke="#69647f" stroke-width="1.3" opacity="0.68"/>
<circle cx="900.6" cy="249.8" r="1.9" fill="none" stroke="#69647f" stroke-width="1.3" opacity="0.52"/>
<circle cx="879.2" cy="211.1" r="2.6" fill="none" stroke="#69647f" stroke-width="1.3" opacity="0.52"/>
<circle cx="967.1" cy="198.2" r="2.7" fill="none" stroke="#69647f" stroke-width="1.3" opacity="0.81"/>
<circle cx="957.9" cy="201.2" r="1.6" fill="none" stroke="#69647f" stroke-width="1.3" opacity="0.76"/>
<circle cx="928.3" cy="245.6" r="2.4" fill="none" stroke="#69647f" stroke-width="1.3" opacity="0.68"/>
<circle cx="819.8" cy="259.5" r="2.3" fill="none" stroke="#69647f" stroke-width="1.3" opacity="0.62"/>
<circle cx="833.1" cy="231.1" r="2.0" fill="none" stroke="#69647f" stroke-width="1.3" opacity="0.57"/>
<circle cx="830.0" cy="212.2" r="1.8" fill="none" stroke="#69647f" stroke-width="1.3" opacity="0.78"/>
<circle cx="981.9" cy="198.8" r="2.6" fill="none" stroke="#69647f" stroke-width="1.3" opacity="0.50"/>
<circle cx="848.9" cy="181.7" r="1.7" fill="none" stroke="#69647f" stroke-width="1.3" opacity="0.59"/>
<circle cx="904.1" cy="259.4" r="2.1" fill="none" stroke="#69647f" stroke-width="1.3" opacity="0.67"/>
<circle cx="910.9" cy="222.1" r="1.7" fill="none" stroke="#69647f" stroke-width="1.3" opacity="0.54"/>
<circle cx="922.4" cy="231.6" r="2.8" fill="none" stroke="#69647f" stroke-width="1.3" opacity="0.80"/>
<circle cx="955.8" cy="241.6" r="2.0" fill="none" stroke="#69647f" stroke-width="1.3" opacity="0.61"/>
<circle cx="872.1" cy="257.8" r="2.3" fill="none" stroke="#69647f" stroke-width="1.3" opacity="0.63"/>
<circle cx="924.9" cy="248.2" r="1.7" fill="none" stroke="#69647f" stroke-width="1.3" opacity="0.69"/>
<circle cx="901.2" cy="195.9" r="1.7" fill="none" stroke="#69647f" stroke-width="1.3" opacity="0.56"/>
<circle cx="867.9" cy="252.3" r="2.5" fill="none" stroke="#69647f" stroke-width="1.3" opacity="0.63"/>
<circle cx="930.2" cy="185.1" r="2.1" fill="none" stroke="#69647f" stroke-width="1.3" opacity="0.63"/>
<circle cx="840.8" cy="224.9" r="2.1" fill="none" stroke="#69647f" stroke-width="1.3" opacity="0.74"/>
<circle cx="877.9" cy="229.2" r="2.2" fill="none" stroke="#69647f" stroke-width="1.3" opacity="0.74"/>
<circle cx="952.9" cy="237.2" r="2.1" fill="none" stroke="#69647f" stroke-width="1.3" opacity="0.81"/>
<circle cx="950.4" cy="212.8" r="2.7" fill="none" stroke="#69647f" stroke-width="1.3" opacity="0.78"/>
<circle cx="906.7" cy="256.4" r="1.7" fill="none" stroke="#69647f" stroke-width="1.3" opacity="0.78"/>
<circle cx="861.5" cy="171.8" r="2.6" fill="none" stroke="#69647f" stroke-width="1.3" opacity="0.73"/>
<circle cx="904.6" cy="186.4" r="1.7" fill="none" stroke="#69647f" stroke-width="1.3" opacity="0.71"/>
<circle cx="935.4" cy="224.3" r="2.5" fill="none" stroke="#69647f" stroke-width="1.3" opacity="0.52"/>
<circle cx="927.6" cy="231.1" r="2.7" fill="none" stroke="#69647f" stroke-width="1.3" opacity="0.56"/>
<circle cx="972.9" cy="262.8" r="2.4" fill="none" stroke="#69647f" stroke-width="1.3" opacity="0.79"/>
<circle cx="966.7" cy="212.5" r="2.6" fill="none" stroke="#69647f" stroke-width="1.3" opacity="0.51"/>
<circle cx="916.3" cy="189.0" r="2.5" fill="none" stroke="#69647f" stroke-width="1.3" opacity="0.54"/>
<circle cx="947.2" cy="233.6" r="2.3" fill="none" stroke="#69647f" stroke-width="1.3" opacity="0.79"/>
<circle cx="911.9" cy="242.2" r="1.9" fill="none" stroke="#69647f" stroke-width="1.3" opacity="0.72"/>
<circle cx="911.5" cy="194.6" r="2.0" fill="none" stroke="#69647f" stroke-width="1.3" opacity="0.64"/>
<circle cx="883.0" cy="248.5" r="1.7" fill="none" stroke="#69647f" stroke-width="1.3" opacity="0.68"/>
<circle cx="956.0" cy="218.8" r="2.5" fill="none" stroke="#69647f" stroke-width="1.3" opacity="0.56"/>
<circle cx="883.2" cy="178.0" r="2.4" fill="none" stroke="#69647f" stroke-width="1.3" opacity="0.68"/>
<circle cx="846.6" cy="228.1" r="2.7" fill="none" stroke="#69647f" stroke-width="1.3" opacity="0.55"/>
<circle cx="971.7" cy="251.4" r="2.7" fill="none" stroke="#69647f" stroke-width="1.3" opacity="0.68"/>
<circle cx="843.7" cy="240.2" r="1.8" fill="none" stroke="#69647f" stroke-width="1.3" opacity="0.59"/>
<circle cx="929.1" cy="260.7" r="2.0" fill="none" stroke="#69647f" stroke-width="1.3" opacity="0.58"/>
<circle cx="890.6" cy="267.7" r="2.1" fill="none" stroke="#69647f" stroke-width="1.3" opacity="0.80"/>
<circle cx="880.1" cy="212.1" r="1.9" fill="none" stroke="#69647f" stroke-width="1.3" opacity="0.51"/>
<circle cx="866.9" cy="227.5" r="1.8" fill="none" stroke="#69647f" stroke-width="1.3" opacity="0.63"/>
<circle cx="876.7" cy="269.2" r="1.8" fill="none" stroke="#69647f" stroke-width="1.3" opacity="0.85"/>
<circle cx="850.5" cy="228.9" r="2.2" fill="none" stroke="#69647f" stroke-width="1.3" opacity="0.79"/>
<circle cx="935.3" cy="190.2" r="2.2" fill="none" stroke="#69647f" stroke-width="1.3" opacity="0.75"/>
<circle cx="938.6" cy="200.7" r="2.5" fill="none" stroke="#69647f" stroke-width="1.3" opacity="0.84"/>
<circle cx="878.8" cy="228.1" r="1.9" fill="none" stroke="#69647f" stroke-width="1.3" opacity="0.75"/>
<circle cx="930.7" cy="206.5" r="1.8" fill="none" stroke="#69647f" stroke-width="1.3" opacity="0.59"/>
<circle cx="937.4" cy="266.0" r="2.6" fill="none" stroke="#69647f" stroke-width="1.3" opacity="0.81"/>
<circle cx="892.3" cy="252.1" r="2.5" fill="none" stroke="#69647f" stroke-width="1.3" opacity="0.53"/>
<circle cx="981.3" cy="254.3" r="2.0" fill="none" stroke="#69647f" stroke-width="1.3" opacity="0.62"/>
<circle cx="851.7" cy="202.6" r="1.6" fill="none" stroke="#69647f" stroke-width="1.3" opacity="0.62"/>
<circle cx="862.9" cy="237.0" r="1.9" fill="none" stroke="#69647f" stroke-width="1.3" opacity="0.70"/>
<circle cx="953.3" cy="215.8" r="2.3" fill="none" stroke="#69647f" stroke-width="1.3" opacity="0.54"/>
<circle cx="900.2" cy="266.6" r="1.7" fill="none" stroke="#69647f" stroke-width="1.3" opacity="0.81"/>
<circle cx="927.5" cy="216.7" r="2.7" fill="none" stroke="#69647f" stroke-width="1.3" opacity="0.63"/>
<circle cx="921.1" cy="175.1" r="2.0" fill="none" stroke="#69647f" stroke-width="1.3" opacity="0.74"/>
<circle cx="864.5" cy="180.2" r="1.9" fill="none" stroke="#69647f" stroke-width="1.3" opacity="0.76"/>
<circle cx="839.9" cy="210.1" r="2.2" fill="#b5693f" opacity="0.7"/>
<circle cx="881.2" cy="211.8" r="2.2" fill="#b5693f" opacity="0.7"/>
<circle cx="977.6" cy="192.0" r="2.2" fill="#b5693f" opacity="0.7"/>
<circle cx="984.5" cy="193.7" r="2.2" fill="#b5693f" opacity="0.7"/>
<circle cx="987.9" cy="266.9" r="2.2" fill="#b5693f" opacity="0.7"/>
<circle cx="839.9" cy="223.8" r="2.2" fill="#b5693f" opacity="0.7"/>
<circle cx="896.7" cy="229.0" r="2.2" fill="#b5693f" opacity="0.7"/>
<circle cx="800.3" cy="211.8" r="2" fill="#4a4258" opacity="0.8"/>
<circle cx="800.3" cy="263.4" r="2" fill="#4a4258" opacity="0.8"/>
<circle cx="798.6" cy="237.6" r="2" fill="#4a4258" opacity="0.8"/>
<circle cx="829.6" cy="258.3" r="2" fill="#4a4258" opacity="0.8"/>
<circle cx="979.3" cy="230.7" r="2" fill="#4a4258" opacity="0.8"/>
<circle cx="993.1" cy="217.0" r="2" fill="#4a4258" opacity="0.8"/>
</g>
</g>
<g clip-path="url(#c4)">
<rect x="1000.3" y="165.2" width="199.8" height="116.6" fill="#8e6a60" filter="url(#tx4)"/>
<g filter="url(#b1)">
<polygon points="1000.2,165.3 1091.4,165.3 1067.3,172.2 1029.4,179.1 1000.2,183.4" fill="#8d8a9a"/>
<polygon points="1091.4,275.5 1125.8,265.2 1167.1,253.1 1200.2,244.5 1200.2,258.3 1167.1,261.7 1132.7,272.0 1115.5,281.9 1091.4,281.9" fill="#9a96a2" opacity="0.9"/>
<polygon points="1000.2,183.4 1029.4,178.2 1067.3,171.4 1091.4,165.7 1087.9,169.6 1069.0,176.5 1031.1,183.4 1007.0,188.6 1000.2,190.3" fill="#e1dcd9"/>
<polygon points="1125.8,273.8 1149.9,265.2 1182.6,259.1 1184.3,261.7 1153.3,269.5 1132.7,278.1" fill="#ddd6d4" opacity="0.9"/>
</g>
<polygon points="1000.2,223.8 1012.2,222.1 1026.0,211.8 1038.0,201.5 1046.6,194.9 1060.4,195.4 1068.1,203.2 1061.3,208.7 1044.1,206.6 1041.5,212.7 1046.6,222.5 1063.8,220.7 1077.6,212.7 1084.5,200.1 1091.4,191.5 1101.7,184.6 1112.0,184.3 1118.9,189.4 1123.7,187.7 1125.8,194.6 1131.0,198.4 1137.9,189.4 1149.9,187.7 1160.2,180.8 1174.0,170.5 1186.0,169.6 1189.5,177.4 1200.2,177.4 1200.2,193.2 1184.3,196.3 1177.4,199.8 1181.2,206.6 1172.3,211.8 1165.4,223.8 1169.2,235.9 1149.9,239.7 1132.7,237.6 1122.4,243.1 1115.5,250.0 1101.7,246.6 1087.9,248.3 1070.7,256.9 1057.0,258.6 1044.9,270.7 1029.4,265.5 1015.7,263.8 1000.2,268.9" fill="none" stroke="#7c4630" stroke-width="13" stroke-linejoin="round" opacity="0.45" filter="url(#b2)"/>
<polygon points="1000.2,223.8 1012.2,222.1 1026.0,211.8 1038.0,201.5 1046.6,194.9 1060.4,195.4 1068.1,203.2 1061.3,208.7 1044.1,206.6 1041.5,212.7 1046.6,222.5 1063.8,220.7 1077.6,212.7 1084.5,200.1 1091.4,191.5 1101.7,184.6 1112.0,184.3 1118.9,189.4 1123.7,187.7 1125.8,194.6 1131.0,198.4 1137.9,189.4 1149.9,187.7 1160.2,180.8 1174.0,170.5 1186.0,169.6 1189.5,177.4 1200.2,177.4 1200.2,193.2 1184.3,196.3 1177.4,199.8 1181.2,206.6 1172.3,211.8 1165.4,223.8 1169.2,235.9 1149.9,239.7 1132.7,237.6 1122.4,243.1 1115.5,250.0 1101.7,246.6 1087.9,248.3 1070.7,256.9 1057.0,258.6 1044.9,270.7 1029.4,265.5 1015.7,263.8 1000.2,268.9" fill="#dcd7d3" stroke="#86492f" stroke-width="4" stroke-linejoin="round" filter="url(#b1)"/>
<polygon points="1000.2,223.8 1012.2,222.1 1026.0,211.8 1038.0,201.5 1046.6,194.9 1060.4,195.4 1068.1,203.2 1061.3,208.7 1044.1,206.6 1041.5,212.7 1046.6,222.5 1063.8,220.7 1077.6,212.7 1084.5,200.1 1091.4,191.5 1101.7,184.6 1112.0,184.3 1118.9,189.4 1123.7,187.7 1125.8,194.6 1131.0,198.4 1137.9,189.4 1149.9,187.7 1160.2,180.8 1174.0,170.5 1186.0,169.6 1189.5,177.4 1200.2,177.4 1200.2,193.2 1184.3,196.3 1177.4,199.8 1181.2,206.6 1172.3,211.8 1165.4,223.8 1169.2,235.9 1149.9,239.7 1132.7,237.6 1122.4,243.1 1115.5,250.0 1101.7,246.6 1087.9,248.3 1070.7,256.9 1057.0,258.6 1044.9,270.7 1029.4,265.5 1015.7,263.8 1000.2,268.9" fill="#dcd7d3" filter="url(#b05)"/>
<g filter="url(#b1)">
<ellipse cx="1086.2" cy="223.0" rx="11" ry="6" fill="#6b4f4f" opacity="0.9" transform="rotate(-25 1086.2 223.0)"/>
<ellipse cx="1131.0" cy="192.0" rx="5" ry="9" fill="#7b6767" opacity="0.9" transform="rotate(10 1131.0 192.0)"/>
<ellipse cx="1007.0" cy="230.7" rx="6" ry="6" fill="#7d5e54" opacity="0.9" transform="rotate(0 1007.0 230.7)"/>
<ellipse cx="1020.8" cy="235.9" rx="7" ry="6" fill="#6d4e46" opacity="0.9" transform="rotate(0 1020.8 235.9)"/>
<ellipse cx="1035.4" cy="233.3" rx="6" ry="5" fill="#76564c" opacity="0.9" transform="rotate(0 1035.4 233.3)"/>
<ellipse cx="1011.4" cy="245.4" rx="8" ry="6" fill="#7d5e54" opacity="0.9" transform="rotate(0 1011.4 245.4)"/>
<ellipse cx="1028.6" cy="247.1" rx="6" ry="6" fill="#5e3f3a" opacity="0.9" transform="rotate(0 1028.6 247.1)"/>
<ellipse cx="1043.2" cy="244.5" rx="4" ry="4" fill="#4e3430" opacity="0.9" transform="rotate(0 1043.2 244.5)"/>
<ellipse cx="1019.1" cy="255.7" rx="6" ry="4" fill="#8a6a5e" opacity="0.9" transform="rotate(0 1019.1 255.7)"/>
<ellipse cx="1003.6" cy="241.1" rx="4" ry="6" fill="#6d4e46" opacity="0.9" transform="rotate(0 1003.6 241.1)"/>
<ellipse cx="1038.0" cy="241.1" rx="4" ry="4" fill="#7d5e54" opacity="0.9" transform="rotate(0 1038.0 241.1)"/>
<circle cx="1048.4" cy="178.8" r="1.7" fill="#cdbdb6" opacity="0.55"/>
<circle cx="1032.4" cy="174.6" r="1.7" fill="#cdbdb6" opacity="0.55"/>
<circle cx="1182.8" cy="258.0" r="2.1" fill="#cdbdb6" opacity="0.55"/>
<circle cx="1045.6" cy="228.0" r="1.5" fill="#cdbdb6" opacity="0.55"/>
<circle cx="1035.9" cy="179.1" r="1.5" fill="#cdbdb6" opacity="0.55"/>
<circle cx="1184.7" cy="261.2" r="2.2" fill="#cdbdb6" opacity="0.55"/>
<circle cx="1159.6" cy="189.0" r="1.6" fill="#cdbdb6" opacity="0.55"/>
<circle cx="1125.4" cy="250.2" r="2.2" fill="#cdbdb6" opacity="0.55"/>
<circle cx="1175.3" cy="176.9" r="1.9" fill="#cdbdb6" opacity="0.55"/>
<circle cx="1134.3" cy="224.5" r="1.4" fill="#cdbdb6" opacity="0.55"/>
<circle cx="1095.2" cy="177.2" r="2.3" fill="#cdbdb6" opacity="0.55"/>
<circle cx="1172.4" cy="229.3" r="1.6" fill="#cdbdb6" opacity="0.55"/>
<circle cx="1181.0" cy="232.1" r="2.3" fill="#cdbdb6" opacity="0.55"/>
<circle cx="1169.0" cy="224.8" r="1.7" fill="#cdbdb6" opacity="0.55"/>
<circle cx="1119.9" cy="216.0" r="1.4" fill="#cdbdb6" opacity="0.55"/>
<circle cx="1062.0" cy="259.4" r="1.3" fill="#cdbdb6" opacity="0.55"/>
<circle cx="1011.0" cy="238.2" r="1.5" fill="#cdbdb6" opacity="0.55"/>
<circle cx="1107.2" cy="220.6" r="1.6" fill="#cdbdb6" opacity="0.55"/>
<circle cx="1198.4" cy="189.3" r="1.7" fill="#cdbdb6" opacity="0.55"/>
<circle cx="1041.8" cy="238.9" r="1.5" fill="#cdbdb6" opacity="0.55"/>
<circle cx="1072.0" cy="251.9" r="1.6" fill="#cdbdb6" opacity="0.55"/>
<circle cx="1112.0" cy="269.8" r="1.3" fill="#cdbdb6" opacity="0.55"/>
<circle cx="1014.0" cy="193.0" r="2.1" fill="#cdbdb6" opacity="0.55"/>
<circle cx="1123.2" cy="194.0" r="1.6" fill="#cdbdb6" opacity="0.55"/>
<circle cx="1036.9" cy="219.2" r="1.3" fill="#cdbdb6" opacity="0.55"/>
<circle cx="1139.3" cy="268.8" r="2.3" fill="#cdbdb6" opacity="0.55"/>
<circle cx="1146.7" cy="276.1" r="1.2" fill="#cdbdb6" opacity="0.55"/>
<circle cx="1058.8" cy="276.8" r="2.1" fill="#cdbdb6" opacity="0.55"/>
<circle cx="1082.8" cy="274.2" r="1.9" fill="#cdbdb6" opacity="0.55"/>
<circle cx="1163.1" cy="200.4" r="1.4" fill="#cdbdb6" opacity="0.55"/>
<circle cx="1089.4" cy="182.5" r="1.7" fill="#cdbdb6" opacity="0.55"/>
<circle cx="1191.4" cy="204.7" r="1.2" fill="#cdbdb6" opacity="0.55"/>
<circle cx="1010.7" cy="186.3" r="2.1" fill="#cdbdb6" opacity="0.55"/>
<circle cx="1073.4" cy="200.0" r="1.3" fill="#cdbdb6" opacity="0.55"/>
<circle cx="1195.4" cy="215.2" r="1.4" fill="#cdbdb6" opacity="0.55"/>
<circle cx="1013.6" cy="173.3" r="1.4" fill="#cdbdb6" opacity="0.55"/>
<circle cx="1135.3" cy="184.0" r="1.2" fill="#cdbdb6" opacity="0.55"/>
<circle cx="1098.6" cy="195.3" r="2.4" fill="#cdbdb6" opacity="0.55"/>
<circle cx="1026.0" cy="227.2" r="2.1" fill="#cdbdb6" opacity="0.55"/>
<circle cx="1082.6" cy="279.2" r="1.8" fill="#cdbdb6" opacity="0.55"/>
<circle cx="1049.5" cy="213.7" r="1.2" fill="#cdbdb6" opacity="0.55"/>
<circle cx="1084.9" cy="195.3" r="2.3" fill="#cdbdb6" opacity="0.55"/>
<circle cx="1165.7" cy="223.7" r="1.2" fill="#cdbdb6" opacity="0.55"/>
<circle cx="1052.0" cy="194.6" r="1.4" fill="#cdbdb6" opacity="0.55"/>
<circle cx="1047.5" cy="265.8" r="1.4" fill="#cdbdb6" opacity="0.55"/>
</g>
<polygon points="1000.2,223.8 1012.2,222.1 1026.0,211.8 1038.0,201.5 1046.6,194.9 1060.4,195.4 1068.1,203.2 1061.3,208.7 1044.1,206.6 1041.5,212.7 1046.6,222.5 1063.8,220.7 1077.6,212.7 1084.5,200.1 1091.4,191.5 1101.7,184.6 1112.0,184.3 1118.9,189.4 1123.7,187.7 1125.8,194.6 1131.0,198.4 1137.9,189.4 1149.9,187.7 1160.2,180.8 1174.0,170.5 1186.0,169.6 1189.5,177.4 1200.2,177.4 1200.2,193.2 1184.3,196.3 1177.4,199.8 1181.2,206.6 1172.3,211.8 1165.4,223.8 1169.2,235.9 1149.9,239.7 1132.7,237.6 1122.4,243.1 1115.5,250.0 1101.7,246.6 1087.9,248.3 1070.7,256.9 1057.0,258.6 1044.9,270.7 1029.4,265.5 1015.7,263.8 1000.2,268.9" fill="#dcd7d3" opacity="0.0"/>
</g>
<text x="886.8" y="147.5" font-family='"Liberation Serif", "Times New Roman", serif' font-size="12.2" font-weight="bold" text-anchor="middle" fill="#000" textLength="70.8" lengthAdjust="spacingAndGlyphs">IHC score 0</text>
<text x="1098.0" y="147.5" font-family='"Liberation Serif", "Times New Roman", serif' font-size="12.2" font-weight="bold" text-anchor="middle" fill="#000" textLength="70.8" lengthAdjust="spacingAndGlyphs">IHC score 1</text>
<text x="886.8" y="299.8" font-family='"Liberation Serif", "Times New Roman", serif' font-size="12.2" font-weight="bold" text-anchor="middle" fill="#000" textLength="70.8" lengthAdjust="spacingAndGlyphs">IHC score 2</text>
<text x="1098.0" y="299.8" font-family='"Liberation Serif", "Times New Roman", serif' font-size="12.2" font-weight="bold" text-anchor="middle" fill="#000" textLength="70.8" lengthAdjust="spacingAndGlyphs">IHC score 3</text>
<text x="976.0" y="310.0" font-family='"Liberation Serif", "Times New Roman", serif' font-size="15.5" font-weight="bold" text-anchor="start" fill="#000" textLength="37.4" lengthAdjust="spacingAndGlyphs">400 x</text>
</g>
<g id="panelD">
<text x="10.6" y="349.4" font-family='"Liberation Serif", "Times New Roman", serif' font-size="57" font-weight="bold" text-anchor="start" fill="#000" textLength="41.9" lengthAdjust="spacingAndGlyphs">D</text>
<line x1="106.6" y1="339.5" x2="106.6" y2="586.3" stroke="#222" stroke-width="1.3" />
<line x1="106.0" y1="585.7" x2="470.5" y2="585.7" stroke="#222" stroke-width="1.3" />
<line x1="103.0" y1="340.3" x2="106.6" y2="340.3" stroke="#222" stroke-width="1.3" />
<text x="103.2" y="346.3" font-family='"Liberation Sans", Arial, sans-serif' font-size="11.3" font-weight="bold" text-anchor="end" fill="#000">4</text>
<line x1="103.0" y1="389.9" x2="106.6" y2="389.9" stroke="#222" stroke-width="1.3" />
<text x="103.2" y="395.9" font-family='"Liberation Sans", Arial, sans-serif' font-size="11.3" font-weight="bold" text-anchor="end" fill="#000">3</text>
<line x1="103.0" y1="438.5" x2="106.6" y2="438.5" stroke="#222" stroke-width="1.3" />
<text x="103.2" y="444.5" font-family='"Liberation Sans", Arial, sans-serif' font-size="11.3" font-weight="bold" text-anchor="end" fill="#000">2</text>
<line x1="103.0" y1="487.5" x2="106.6" y2="487.5" stroke="#222" stroke-width="1.3" />
<text x="103.2" y="493.5" font-family='"Liberation Sans", Arial, sans-serif' font-size="11.3" font-weight="bold" text-anchor="end" fill="#000">1</text>
<line x1="103.0" y1="536.5" x2="106.6" y2="536.5" stroke="#222" stroke-width="1.3" />
<text x="103.2" y="542.5" font-family='"Liberation Sans", Arial, sans-serif' font-size="11.3" font-weight="bold" text-anchor="end" fill="#000">0</text>
<line x1="103.0" y1="585.7" x2="106.6" y2="585.7" stroke="#222" stroke-width="1.3" />
<text x="103.2" y="591.7" font-family='"Liberation Sans", Arial, sans-serif' font-size="11.3" font-weight="bold" text-anchor="end" fill="#000">-1</text>
<line x1="143.0" y1="585.7" x2="143.0" y2="589.2" stroke="#222" stroke-width="1.3" />
<line x1="216.0" y1="585.7" x2="216.0" y2="589.2" stroke="#222" stroke-width="1.3" />
<line x1="288.1" y1="585.7" x2="288.1" y2="589.2" stroke="#222" stroke-width="1.3" />
<line x1="361.5" y1="585.7" x2="361.5" y2="589.2" stroke="#222" stroke-width="1.3" />
<line x1="434.4" y1="585.7" x2="434.4" y2="589.2" stroke="#222" stroke-width="1.3" />
<text x="143.0" y="599.2" font-family='"Liberation Sans", Arial, sans-serif' font-size="11.3" font-weight="bold" text-anchor="middle" fill="#000" textLength="38.9" lengthAdjust="spacingAndGlyphs">Normal</text>
<text x="216.0" y="599.2" font-family='"Liberation Sans", Arial, sans-serif' font-size="11.3" font-weight="bold" text-anchor="middle" fill="#000" textLength="36.5" lengthAdjust="spacingAndGlyphs">Stage I</text>
<text x="288.1" y="599.2" font-family='"Liberation Sans", Arial, sans-serif' font-size="11.3" font-weight="bold" text-anchor="middle" fill="#000" textLength="40.5" lengthAdjust="spacingAndGlyphs">Stage II</text>
<text x="361.5" y="599.2" font-family='"Liberation Sans", Arial, sans-serif' font-size="11.3" font-weight="bold" text-anchor="middle" fill="#000" textLength="44.0" lengthAdjust="spacingAndGlyphs">Stage III</text>
<text x="434.4" y="599.2" font-family='"Liberation Sans", Arial, sans-serif' font-size="11.3" font-weight="bold" text-anchor="middle" fill="#000" textLength="42.5" lengthAdjust="spacingAndGlyphs">Stage IV</text>
<text x="83.0" y="463.8" font-family='"Liberation Sans", Arial, sans-serif' font-size="12.3" font-weight="bold" text-anchor="middle" fill="#000" transform="rotate(-90 83.0 463.8)">IHC score</text>
<line x1="138.5" y1="358.0" x2="210.6" y2="358.0" stroke="#111" stroke-width="1.6" />
<line x1="216.4" y1="358.0" x2="288.1" y2="358.0" stroke="#111" stroke-width="1.6" />
<line x1="357.4" y1="358.0" x2="432.4" y2="358.0" stroke="#111" stroke-width="1.6" />
<text x="153.9" y="354.3" font-family='"Liberation Sans", Arial, sans-serif' font-size="11" font-weight="bold" textLength="43.2" lengthAdjust="spacingAndGlyphs">**<tspan font-style="italic">p</tspan>&lt;0.01</text>
<text x="223.4" y="354.3" font-family='"Liberation Sans", Arial, sans-serif' font-size="11" font-weight="bold" textLength="55.3" lengthAdjust="spacingAndGlyphs">***<tspan font-style="italic">p</tspan>&lt;0.001</text>
<text x="377.0" y="354.3" font-family='"Liberation Sans", Arial, sans-serif' font-size="11" font-weight="bold" textLength="40.2" lengthAdjust="spacingAndGlyphs">*<tspan font-style="italic">p</tspan>&lt;0.05</text>
<g fill="#ee1a1c">
<circle cx="128.3" cy="487.5" r="1.9"/>
<circle cx="133.2" cy="487.5" r="1.9"/>
<circle cx="138.1" cy="487.5" r="1.9"/>
<circle cx="143.1" cy="487.5" r="1.9"/>
<circle cx="148.0" cy="487.5" r="1.9"/>
<circle cx="152.9" cy="487.5" r="1.9"/>
<circle cx="157.8" cy="487.5" r="1.9"/>
<circle cx="119.5" cy="536.5" r="1.9"/>
<circle cx="121.5" cy="536.5" r="1.9"/>
<circle cx="123.5" cy="536.5" r="1.9"/>
<circle cx="125.5" cy="536.5" r="1.9"/>
<circle cx="127.5" cy="536.5" r="1.9"/>
<circle cx="129.5" cy="536.5" r="1.9"/>
<circle cx="131.5" cy="536.5" r="1.9"/>
<circle cx="133.5" cy="536.5" r="1.9"/>
<circle cx="135.5" cy="536.5" r="1.9"/>
<circle cx="137.5" cy="536.5" r="1.9"/>
<circle cx="139.5" cy="536.5" r="1.9"/>
<circle cx="141.5" cy="536.5" r="1.9"/>
<circle cx="143.5" cy="536.5" r="1.9"/>
<circle cx="145.5" cy="536.5" r="1.9"/>
<circle cx="147.5" cy="536.5" r="1.9"/>
<circle cx="149.5" cy="536.5" r="1.9"/>
<circle cx="151.5" cy="536.5" r="1.9"/>
<circle cx="153.5" cy="536.5" r="1.9"/>
<circle cx="155.5" cy="536.5" r="1.9"/>
<circle cx="157.5" cy="536.5" r="1.9"/>
<circle cx="159.5" cy="536.5" r="1.9"/>
<circle cx="161.5" cy="536.5" r="1.9"/>
<circle cx="163.5" cy="536.5" r="1.9"/>
<circle cx="165.5" cy="536.5" r="1.9"/>
<path d="M208.9 388.2h4.2l-2.1 3.6z"/>
<path d="M213.9 388.2h4.2l-2.1 3.6z"/>
<path d="M219.2 388.2h4.2l-2.1 3.6z"/>
<path d="M193.8 436.8h4.2l-2.1 3.6z"/>
<path d="M198.4 436.8h4.2l-2.1 3.6z"/>
<path d="M202.9 436.8h4.2l-2.1 3.6z"/>
<path d="M204.9 436.8h4.2l-2.1 3.6z"/>
<path d="M206.9 436.8h4.2l-2.1 3.6z"/>
<path d="M208.9 436.8h4.2l-2.1 3.6z"/>
<path d="M210.9 436.8h4.2l-2.1 3.6z"/>
<path d="M212.9 436.8h4.2l-2.1 3.6z"/>
<path d="M214.9 436.8h4.2l-2.1 3.6z"/>
<path d="M216.9 436.8h4.2l-2.1 3.6z"/>
<path d="M218.9 436.8h4.2l-2.1 3.6z"/>
<path d="M220.9 436.8h4.2l-2.1 3.6z"/>
<path d="M222.9 436.8h4.2l-2.1 3.6z"/>
<path d="M224.9 436.8h4.2l-2.1 3.6z"/>
<path d="M229.4 436.8h4.2l-2.1 3.6z"/>
<path d="M233.9 436.8h4.2l-2.1 3.6z"/>
<path d="M191.1 485.8h4.2l-2.1 3.6z"/>
<path d="M193.3 485.8h4.2l-2.1 3.6z"/>
<path d="M195.4 485.8h4.2l-2.1 3.6z"/>
<path d="M197.6 485.8h4.2l-2.1 3.6z"/>
<path d="M199.7 485.8h4.2l-2.1 3.6z"/>
<path d="M201.9 485.8h4.2l-2.1 3.6z"/>
<path d="M204.0 485.8h4.2l-2.1 3.6z"/>
<path d="M206.2 485.8h4.2l-2.1 3.6z"/>
<path d="M208.4 485.8h4.2l-2.1 3.6z"/>
<path d="M210.5 485.8h4.2l-2.1 3.6z"/>
<path d="M212.7 485.8h4.2l-2.1 3.6z"/>
<path d="M214.8 485.8h4.2l-2.1 3.6z"/>
<path d="M217.0 485.8h4.2l-2.1 3.6z"/>
<path d="M219.1 485.8h4.2l-2.1 3.6z"/>
<path d="M221.3 485.8h4.2l-2.1 3.6z"/>
<path d="M223.5 485.8h4.2l-2.1 3.6z"/>
<path d="M225.6 485.8h4.2l-2.1 3.6z"/>
<path d="M227.8 485.8h4.2l-2.1 3.6z"/>
<path d="M229.9 485.8h4.2l-2.1 3.6z"/>
<path d="M232.1 485.8h4.2l-2.1 3.6z"/>
<path d="M234.2 485.8h4.2l-2.1 3.6z"/>
<path d="M236.4 485.8h4.2l-2.1 3.6z"/>
<path d="M191.1 534.8h4.2l-2.1 3.6z"/>
<path d="M193.3 534.8h4.2l-2.1 3.6z"/>
<path d="M195.4 534.8h4.2l-2.1 3.6z"/>
<path d="M197.6 534.8h4.2l-2.1 3.6z"/>
<path d="M199.7 534.8h4.2l-2.1 3.6z"/>
<path d="M201.9 534.8h4.2l-2.1 3.6z"/>
<path d="M204.0 534.8h4.2l-2.1 3.6z"/>
<path d="M206.2 534.8h4.2l-2.1 3.6z"/>
<path d="M208.4 534.8h4.2l-2.1 3.6z"/>
<path d="M210.5 534.8h4.2l-2.1 3.6z"/>
<path d="M212.7 534.8h4.2l-2.1 3.6z"/>
<path d="M214.8 534.8h4.2l-2.1 3.6z"/>
<path d="M217.0 534.8h4.2l-2.1 3.6z"/>
<path d="M219.1 534.8h4.2l-2.1 3.6z"/>
<path d="M221.3 534.8h4.2l-2.1 3.6z"/>
<path d="M223.5 534.8h4.2l-2.1 3.6z"/>
<path d="M225.6 534.8h4.2l-2.1 3.6z"/>
<path d="M227.8 534.8h4.2l-2.1 3.6z"/>
<path d="M229.9 534.8h4.2l-2.1 3.6z"/>
<path d="M232.1 534.8h4.2l-2.1 3.6z"/>
<path d="M234.2 534.8h4.2l-2.1 3.6z"/>
<path d="M236.4 534.8h4.2l-2.1 3.6z"/>
<path d="M266.3 391.6h4.2l-2.1 -3.6z"/>
<path d="M270.9 391.6h4.2l-2.1 -3.6z"/>
<path d="M275.9 391.6h4.2l-2.1 -3.6z"/>
<path d="M278.0 391.6h4.2l-2.1 -3.6z"/>
<path d="M280.1 391.6h4.2l-2.1 -3.6z"/>
<path d="M282.3 391.6h4.2l-2.1 -3.6z"/>
<path d="M284.4 391.6h4.2l-2.1 -3.6z"/>
<path d="M286.5 391.6h4.2l-2.1 -3.6z"/>
<path d="M288.6 391.6h4.2l-2.1 -3.6z"/>
<path d="M290.8 391.6h4.2l-2.1 -3.6z"/>
<path d="M292.9 391.6h4.2l-2.1 -3.6z"/>
<path d="M296.9 391.6h4.2l-2.1 -3.6z"/>
<path d="M301.4 391.6h4.2l-2.1 -3.6z"/>
<path d="M306.1 391.6h4.2l-2.1 -3.6z"/>
<path d="M263.9 440.2h4.2l-2.1 -3.6z"/>
<path d="M265.7 440.2h4.2l-2.1 -3.6z"/>
<path d="M267.6 440.2h4.2l-2.1 -3.6z"/>
<path d="M269.4 440.2h4.2l-2.1 -3.6z"/>
<path d="M271.3 440.2h4.2l-2.1 -3.6z"/>
<path d="M273.1 440.2h4.2l-2.1 -3.6z"/>
<path d="M274.9 440.2h4.2l-2.1 -3.6z"/>
<path d="M276.8 440.2h4.2l-2.1 -3.6z"/>
<path d="M278.6 440.2h4.2l-2.1 -3.6z"/>
<path d="M280.5 440.2h4.2l-2.1 -3.6z"/>
<path d="M282.3 440.2h4.2l-2.1 -3.6z"/>
<path d="M284.1 440.2h4.2l-2.1 -3.6z"/>
<path d="M286.0 440.2h4.2l-2.1 -3.6z"/>
<path d="M287.8 440.2h4.2l-2.1 -3.6z"/>
<path d="M289.7 440.2h4.2l-2.1 -3.6z"/>
<path d="M291.5 440.2h4.2l-2.1 -3.6z"/>
<path d="M293.3 440.2h4.2l-2.1 -3.6z"/>
<path d="M295.2 440.2h4.2l-2.1 -3.6z"/>
<path d="M297.0 440.2h4.2l-2.1 -3.6z"/>
<path d="M298.9 440.2h4.2l-2.1 -3.6z"/>
<path d="M300.7 440.2h4.2l-2.1 -3.6z"/>
<path d="M302.5 440.2h4.2l-2.1 -3.6z"/>
<path d="M304.4 440.2h4.2l-2.1 -3.6z"/>
<path d="M306.2 440.2h4.2l-2.1 -3.6z"/>
<path d="M308.1 440.2h4.2l-2.1 -3.6z"/>
<path d="M309.9 440.2h4.2l-2.1 -3.6z"/>
<path d="M266.3 489.2h4.2l-2.1 -3.6z"/>
<path d="M268.3 489.2h4.2l-2.1 -3.6z"/>
<path d="M270.2 489.2h4.2l-2.1 -3.6z"/>
<path d="M272.2 489.2h4.2l-2.1 -3.6z"/>
<path d="M274.1 489.2h4.2l-2.1 -3.6z"/>
<path d="M276.1 489.2h4.2l-2.1 -3.6z"/>
<path d="M278.0 489.2h4.2l-2.1 -3.6z"/>
<path d="M280.0 489.2h4.2l-2.1 -3.6z"/>
<path d="M281.9 489.2h4.2l-2.1 -3.6z"/>
<path d="M283.9 489.2h4.2l-2.1 -3.6z"/>
<path d="M285.8 489.2h4.2l-2.1 -3.6z"/>
<path d="M287.8 489.2h4.2l-2.1 -3.6z"/>
<path d="M289.7 489.2h4.2l-2.1 -3.6z"/>
<path d="M291.7 489.2h4.2l-2.1 -3.6z"/>
<path d="M293.6 489.2h4.2l-2.1 -3.6z"/>
<path d="M295.6 489.2h4.2l-2.1 -3.6z"/>
<path d="M297.5 489.2h4.2l-2.1 -3.6z"/>
<path d="M299.5 489.2h4.2l-2.1 -3.6z"/>
<path d="M301.4 489.2h4.2l-2.1 -3.6z"/>
<path d="M303.4 489.2h4.2l-2.1 -3.6z"/>
<path d="M305.3 489.2h4.2l-2.1 -3.6z"/>
<path d="M307.3 489.2h4.2l-2.1 -3.6z"/>
<path d="M266.3 538.2h4.2l-2.1 -3.6z"/>
<path d="M268.1 538.2h4.2l-2.1 -3.6z"/>
<path d="M269.9 538.2h4.2l-2.1 -3.6z"/>
<path d="M271.6 538.2h4.2l-2.1 -3.6z"/>
<path d="M273.4 538.2h4.2l-2.1 -3.6z"/>
<path d="M275.2 538.2h4.2l-2.1 -3.6z"/>
<path d="M277.0 538.2h4.2l-2.1 -3.6z"/>
<path d="M278.8 538.2h4.2l-2.1 -3.6z"/>
<path d="M280.6 538.2h4.2l-2.1 -3.6z"/>
<path d="M282.3 538.2h4.2l-2.1 -3.6z"/>
<path d="M284.1 538.2h4.2l-2.1 -3.6z"/>
<path d="M285.9 538.2h4.2l-2.1 -3.6z"/>
<path d="M287.7 538.2h4.2l-2.1 -3.6z"/>
<path d="M289.5 538.2h4.2l-2.1 -3.6z"/>
<path d="M291.3 538.2h4.2l-2.1 -3.6z"/>
<path d="M293.0 538.2h4.2l-2.1 -3.6z"/>
<path d="M294.8 538.2h4.2l-2.1 -3.6z"/>
<path d="M296.6 538.2h4.2l-2.1 -3.6z"/>
<path d="M298.4 538.2h4.2l-2.1 -3.6z"/>
<path d="M300.2 538.2h4.2l-2.1 -3.6z"/>
<path d="M302.0 538.2h4.2l-2.1 -3.6z"/>
<path d="M303.7 538.2h4.2l-2.1 -3.6z"/>
<path d="M305.5 538.2h4.2l-2.1 -3.6z"/>
<path d="M307.3 538.2h4.2l-2.1 -3.6z"/>
<rect x="359.6" y="388.0" width="3.7" height="3.7"/>
<rect x="349.6" y="436.6" width="3.7" height="3.7"/>
<rect x="353.6" y="436.6" width="3.7" height="3.7"/>
<rect x="357.6" y="436.6" width="3.7" height="3.7"/>
<rect x="361.6" y="436.6" width="3.7" height="3.7"/>
<rect x="365.6" y="436.6" width="3.7" height="3.7"/>
<rect x="344.6" y="485.6" width="3.7" height="3.7"/>
<rect x="348.5" y="485.6" width="3.7" height="3.7"/>
<rect x="352.3" y="485.6" width="3.7" height="3.7"/>
<rect x="356.1" y="485.6" width="3.7" height="3.7"/>
<rect x="359.9" y="485.6" width="3.7" height="3.7"/>
<rect x="363.7" y="485.6" width="3.7" height="3.7"/>
<rect x="367.5" y="485.6" width="3.7" height="3.7"/>
<rect x="371.3" y="485.6" width="3.7" height="3.7"/>
<rect x="375.1" y="485.6" width="3.7" height="3.7"/>
<circle cx="429.5" cy="389.9" r="1.9"/>
<circle cx="434.4" cy="389.9" r="1.9"/>
<circle cx="434.4" cy="438.5" r="1.9"/>
</g>
<line x1="118.0" y1="523.8" x2="168.0" y2="523.8" stroke="#000" stroke-width="2.2" />
<line x1="143.0" y1="502.0" x2="143.0" y2="545.9" stroke="#000" stroke-width="2.2" />
<line x1="136.5" y1="502.0" x2="149.6" y2="502.0" stroke="#000" stroke-width="2.2" />
<line x1="136.5" y1="545.9" x2="149.6" y2="545.9" stroke="#000" stroke-width="2.2" />
<line x1="190.6" y1="499.6" x2="241.0" y2="499.6" stroke="#000" stroke-width="2.2" />
<line x1="216.0" y1="459.0" x2="216.0" y2="540.6" stroke="#000" stroke-width="2.2" />
<line x1="209.4" y1="459.0" x2="222.5" y2="459.0" stroke="#000" stroke-width="2.2" />
<line x1="209.4" y1="540.6" x2="222.5" y2="540.6" stroke="#000" stroke-width="2.2" />
<line x1="263.5" y1="465.6" x2="313.5" y2="465.6" stroke="#000" stroke-width="2.2" />
<line x1="288.1" y1="414.3" x2="288.1" y2="516.4" stroke="#000" stroke-width="2.2" />
<line x1="275.8" y1="414.3" x2="301.2" y2="414.3" stroke="#000" stroke-width="2.2" />
<line x1="275.8" y1="516.4" x2="301.2" y2="516.4" stroke="#000" stroke-width="2.2" />
<line x1="336.9" y1="462.7" x2="386.5" y2="462.7" stroke="#000" stroke-width="2.2" />
<line x1="361.5" y1="430.0" x2="361.5" y2="496.0" stroke="#000" stroke-width="2.2" />
<line x1="355.0" y1="430.0" x2="368.0" y2="430.0" stroke="#000" stroke-width="2.2" />
<line x1="355.0" y1="496.0" x2="368.0" y2="496.0" stroke="#000" stroke-width="2.2" />
<line x1="409.8" y1="405.7" x2="459.8" y2="405.7" stroke="#000" stroke-width="2.2" />
<line x1="434.4" y1="377.0" x2="434.4" y2="434.0" stroke="#000" stroke-width="2.2" />
<line x1="428.3" y1="377.0" x2="441.4" y2="377.0" stroke="#000" stroke-width="2.2" />
<line x1="428.3" y1="434.0" x2="441.4" y2="434.0" stroke="#000" stroke-width="2.2" />
</g>
<g id="panelE">
<text x="544.6" y="352.8" font-family='"Liberation Serif", "Times New Roman", serif' font-size="57" font-weight="bold" text-anchor="start" fill="#000" textLength="36.7" lengthAdjust="spacingAndGlyphs">E</text>
<line x1="616.8" y1="361.5" x2="616.8" y2="599.6" stroke="#333" stroke-width="1.1" />
<line x1="616.3" y1="599.1" x2="1068.4" y2="599.1" stroke="#333" stroke-width="1.1" />
<line x1="614.3" y1="372.0" x2="616.8" y2="372.0" stroke="#333" stroke-width="1" />
<text x="613.3" y="374.9" font-family='"Liberation Sans", Arial, sans-serif' font-size="8.1" font-weight="normal" text-anchor="end" fill="#222">1.00</text>
<line x1="614.3" y1="426.1" x2="616.8" y2="426.1" stroke="#333" stroke-width="1" />
<text x="613.3" y="429.0" font-family='"Liberation Sans", Arial, sans-serif' font-size="8.1" font-weight="normal" text-anchor="end" fill="#222">0.75</text>
<line x1="614.3" y1="480.3" x2="616.8" y2="480.3" stroke="#333" stroke-width="1" />
<text x="613.3" y="483.2" font-family='"Liberation Sans", Arial, sans-serif' font-size="8.1" font-weight="normal" text-anchor="end" fill="#222">0.50</text>
<line x1="614.3" y1="534.0" x2="616.8" y2="534.0" stroke="#333" stroke-width="1" />
<text x="613.3" y="536.9" font-family='"Liberation Sans", Arial, sans-serif' font-size="8.1" font-weight="normal" text-anchor="end" fill="#222">0.25</text>
<line x1="614.3" y1="588.1" x2="616.8" y2="588.1" stroke="#333" stroke-width="1" />
<text x="613.3" y="591.0" font-family='"Liberation Sans", Arial, sans-serif' font-size="8.1" font-weight="normal" text-anchor="end" fill="#222">0.00</text>
<line x1="638.0" y1="599.1" x2="638.0" y2="601.8" stroke="#333" stroke-width="1" />
<text x="638.0" y="609.5" font-family='"Liberation Sans", Arial, sans-serif' font-size="8.1" font-weight="normal" text-anchor="middle" fill="#222">0</text>
<line x1="740.3" y1="599.1" x2="740.3" y2="601.8" stroke="#333" stroke-width="1" />
<text x="740.3" y="609.5" font-family='"Liberation Sans", Arial, sans-serif' font-size="8.1" font-weight="normal" text-anchor="middle" fill="#222">25</text>
<line x1="843.1" y1="599.1" x2="843.1" y2="601.8" stroke="#333" stroke-width="1" />
<text x="843.1" y="609.5" font-family='"Liberation Sans", Arial, sans-serif' font-size="8.1" font-weight="normal" text-anchor="middle" fill="#222">50</text>
<line x1="945.9" y1="599.1" x2="945.9" y2="601.8" stroke="#333" stroke-width="1" />
<text x="945.9" y="609.5" font-family='"Liberation Sans", Arial, sans-serif' font-size="8.1" font-weight="normal" text-anchor="middle" fill="#222">75</text>
<line x1="1048.2" y1="599.1" x2="1048.2" y2="601.8" stroke="#333" stroke-width="1" />
<text x="1048.2" y="609.5" font-family='"Liberation Sans", Arial, sans-serif' font-size="8.1" font-weight="normal" text-anchor="middle" fill="#222">100</text>
<text x="842.6" y="618.9" font-family='"Liberation Sans", Arial, sans-serif' font-size="9.4" font-weight="normal" text-anchor="middle" fill="#111">Months</text>
<text x="594.3" y="481.6" font-family='"Liberation Sans", Arial, sans-serif' font-size="9.1" font-weight="normal" text-anchor="middle" fill="#111" transform="rotate(-90 594.3 481.6)">Survival%</text>
<text x="645.3" y="548.2" font-family='"Liberation Sans", Arial, sans-serif' font-size="9.4" font-weight="normal" text-anchor="start" fill="#111" textLength="44.5" lengthAdjust="spacingAndGlyphs">p = 0.0046</text>
<text x="754.1" y="345.5" font-family='"Liberation Sans", Arial, sans-serif' font-size="6.4" font-weight="normal" text-anchor="start" fill="#222" textLength="17.6" lengthAdjust="spacingAndGlyphs">Strata</text>
<line x1="777.5" y1="343.4" x2="786.1" y2="343.4" stroke="#ee6a5f" stroke-width="1.3" />
<text x="790.6" y="345.5" font-family='"Liberation Sans", Arial, sans-serif' font-size="6.4" font-weight="normal" text-anchor="start" fill="#222" textLength="65.0" lengthAdjust="spacingAndGlyphs">S100A14_group=high</text>
<line x1="857.4" y1="343.4" x2="866.0" y2="343.4" stroke="#12b3c2" stroke-width="1.3" />
<text x="871.5" y="345.5" font-family='"Liberation Sans", Arial, sans-serif' font-size="6.4" font-weight="normal" text-anchor="start" fill="#222" textLength="62.0" lengthAdjust="spacingAndGlyphs">S100A14_group=low</text>
<path d="M638.1 371.1H639.1V373.1H640.1V375.1H643.1V376.6H646.2V378.1H649.2V379.1H652.2V380.1H652.8V383.1H653.5V386.1H654.2V389.1H654.8V391.6H655.4V394.0H656.0V396.4H656.6V398.8H657.2V401.2H658.7V404.4H660.2V407.6H662.9V408.5H665.6V409.4H668.2V410.2H668.9V413.2H669.6V416.3H670.3V419.3H671.6V421.9H672.9V424.6H674.3V427.3H675.3V430.0H676.3V432.7H677.3V435.3H678.8V438.4H680.3V441.4H683.3V442.4H686.3V443.4H687.0V446.0H687.7V448.7H688.3V451.4H689.1V454.2H689.8V456.9H690.6V459.7H691.3V462.5H693.7V463.1H696.0V463.8H698.4V464.5H699.4V467.5H700.4V470.5H701.4V473.5H701.6V476.0H701.9V478.5H702.1V481.0H702.4V483.5H704.4V486.1H706.4V488.6H707.7V491.6H709.1V494.6H710.4V497.6H712.9V497.7H715.4V497.8H718.0V497.9H720.5V498.0H721.0V500.3H721.5V502.6H723.5V503.1H725.5V503.6H727.0V506.6H728.5V509.6H730.5V512.7H736.5V512.7H737.0V514.7H737.5V516.7H780.7V516.7H780.7V523.7H789.8V523.7H789.8V529.7H817.9V529.7H817.9V541.5H912V557.1H932.2V572.3H946.4" fill="none" stroke="#ee6a5f" stroke-width="1.6" stroke-linejoin="miter"/>
<path d="M638.1 371.1H642.1V371.1H642.1V374.5H650.2V374.5H651.2V378.1H652.2V380.1H653.2V382.1H664.2V382.1H665.7V384.1H667.2V386.1H667.9V388.8H668.6V391.5H669.2V394.2H676.3V394.2H677.8V396.7H679.3V399.2H681.8V399.7H684.3V400.2H685.7V402.9H687.0V405.5H688.3V408.2H691.0V408.6H693.7V408.9H696.4V409.2H698.4V412.2H700.4V415.3H701.7V417.9H703.1V420.6H704.4V423.3H705.4V425.8H706.4V428.4H707.4V430.9H714.4V430.9H715.9V433.1H717.5V435.3H717.6V438.0H717.8V440.7H718.0V443.4H718.1V446.0H718.3V448.7H718.5V451.4H719.1V454.1H719.8V456.8H720.5V459.4H721.1V462.1H721.8V464.8H722.5V467.5H725.5V468.5H728.5V469.5H730.0V472.5H731.5V475.5H731.8V478.0H732.0V480.5H732.3V483.0H732.5V485.5H734.5V486.6H736.5V487.6H736.5V492.6H760.6V492.6H760.6V498.6H840.0V498.6H840.2V511.4H1007.7" fill="none" stroke="#12b3c2" stroke-width="1.6" stroke-linejoin="miter"/>
<path d="M843.4 511.4h3.2M845.0 509.6v3.6" stroke="#12b3c2" stroke-width="1" fill="none"/>
<path d="M884.9 511.4h3.2M886.5 509.6v3.6" stroke="#12b3c2" stroke-width="1" fill="none"/>
<path d="M896.9 511.4h3.2M898.5 509.6v3.6" stroke="#12b3c2" stroke-width="1" fill="none"/>
<path d="M906.9 511.4h3.2M908.5 509.6v3.6" stroke="#12b3c2" stroke-width="1" fill="none"/>
<path d="M916.4 511.4h3.2M918.0 509.6v3.6" stroke="#12b3c2" stroke-width="1" fill="none"/>
<path d="M1006.1 511.4h3.2M1007.7 509.6v3.6" stroke="#12b3c2" stroke-width="1" fill="none"/>
<path d="M739.4 492.6h3.2M741.0 490.8v3.6" stroke="#12b3c2" stroke-width="1" fill="none"/>
<path d="M764.4 498.7h3.2M766.0 496.9v3.6" stroke="#12b3c2" stroke-width="1" fill="none"/>
<path d="M769.4 498.7h3.2M771.0 496.9v3.6" stroke="#12b3c2" stroke-width="1" fill="none"/>
<path d="M775.4 498.7h3.2M777.0 496.9v3.6" stroke="#12b3c2" stroke-width="1" fill="none"/>
<path d="M784.4 498.7h3.2M786.0 496.9v3.6" stroke="#12b3c2" stroke-width="1" fill="none"/>
<path d="M785.9 498.7h3.2M787.5 496.9v3.6" stroke="#12b3c2" stroke-width="1" fill="none"/>
<path d="M821.9 498.7h3.2M823.5 496.9v3.6" stroke="#12b3c2" stroke-width="1" fill="none"/>
<path d="M638.5 371.1h3.2M640.1 369.3v3.6" stroke="#12b3c2" stroke-width="1" fill="none"/>
<path d="M641.5 372.7h3.2M643.1 370.9v3.6" stroke="#12b3c2" stroke-width="1" fill="none"/>
<path d="M661.6 383.5h3.2M663.2 381.7v3.6" stroke="#12b3c2" stroke-width="1" fill="none"/>
<path d="M666.6 390.1h3.2M668.2 388.3v3.6" stroke="#12b3c2" stroke-width="1" fill="none"/>
<path d="M675.7 394.2h3.2M677.3 392.4v3.6" stroke="#12b3c2" stroke-width="1" fill="none"/>
<path d="M678.7 398.2h3.2M680.3 396.4v3.6" stroke="#12b3c2" stroke-width="1" fill="none"/>
<path d="M681.7 399.6h3.2M683.3 397.8v3.6" stroke="#12b3c2" stroke-width="1" fill="none"/>
<path d="M688.7 408.2h3.2M690.3 406.4v3.6" stroke="#12b3c2" stroke-width="1" fill="none"/>
<path d="M691.8 408.8h3.2M693.4 407.0v3.6" stroke="#12b3c2" stroke-width="1" fill="none"/>
<path d="M694.8 411.8h3.2M696.4 410.0v3.6" stroke="#12b3c2" stroke-width="1" fill="none"/>
<path d="M697.8 413.6h3.2M699.4 411.8v3.6" stroke="#12b3c2" stroke-width="1" fill="none"/>
<path d="M700.8 419.3h3.2M702.4 417.5v3.6" stroke="#12b3c2" stroke-width="1" fill="none"/>
<path d="M702.4 421.3h3.2M704.0 419.5v3.6" stroke="#12b3c2" stroke-width="1" fill="none"/>
<path d="M719.9 460.4h3.2M721.5 458.6v3.6" stroke="#12b3c2" stroke-width="1" fill="none"/>
<path d="M723.9 466.5h3.2M725.5 464.7v3.6" stroke="#12b3c2" stroke-width="1" fill="none"/>
<path d="M725.9 471.5h3.2M727.5 469.7v3.6" stroke="#12b3c2" stroke-width="1" fill="none"/>
<path d="M731.9 486.6h3.2M733.5 484.8v3.6" stroke="#12b3c2" stroke-width="1" fill="none"/>
<path d="M738.9 492.6h3.2M740.5 490.8v3.6" stroke="#12b3c2" stroke-width="1" fill="none"/>
<path d="M667.6 412.2h3.2M669.2 410.4v3.6" stroke="#ee6a5f" stroke-width="1" fill="none"/>
<path d="M670.7 422.3h3.2M672.3 420.5v3.6" stroke="#ee6a5f" stroke-width="1" fill="none"/>
<path d="M673.7 430.3h3.2M675.3 428.5v3.6" stroke="#ee6a5f" stroke-width="1" fill="none"/>
<path d="M687.7 451.4h3.2M689.3 449.6v3.6" stroke="#ee6a5f" stroke-width="1" fill="none"/>
<path d="M694.8 464.5h3.2M696.4 462.7v3.6" stroke="#ee6a5f" stroke-width="1" fill="none"/>
<path d="M701.8 485.5h3.2M703.4 483.7v3.6" stroke="#ee6a5f" stroke-width="1" fill="none"/>
<path d="M706.8 491.6h3.2M708.4 489.8v3.6" stroke="#ee6a5f" stroke-width="1" fill="none"/>
<path d="M716.9 497.6h3.2M718.5 495.8v3.6" stroke="#ee6a5f" stroke-width="1" fill="none"/>
<path d="M724.9 507.6h3.2M726.5 505.8v3.6" stroke="#ee6a5f" stroke-width="1" fill="none"/>
<path d="M734.9 512.1h3.2M736.5 510.3v3.6" stroke="#ee6a5f" stroke-width="1" fill="none"/>
<path d="M748.4 516.7h3.2M750.0 514.9v3.6" stroke="#ee6a5f" stroke-width="1" fill="none"/>
<path d="M759.4 516.7h3.2M761.0 514.9v3.6" stroke="#ee6a5f" stroke-width="1" fill="none"/>
<path d="M767.4 516.7h3.2M769.0 514.9v3.6" stroke="#ee6a5f" stroke-width="1" fill="none"/>
<path d="M774.4 516.7h3.2M776.0 514.9v3.6" stroke="#ee6a5f" stroke-width="1" fill="none"/>
<path d="M804.4 529.8h3.2M806.0 528.0v3.6" stroke="#ee6a5f" stroke-width="1" fill="none"/>
<path d="M810.4 529.8h3.2M812.0 528.0v3.6" stroke="#ee6a5f" stroke-width="1" fill="none"/>
<path d="M814.4 529.8h3.2M816.0 528.0v3.6" stroke="#ee6a5f" stroke-width="1" fill="none"/>
<path d="M877.9 541.5h3.2M879.5 539.7v3.6" stroke="#ee6a5f" stroke-width="1" fill="none"/>
<path d="M944.8 572.3h3.2M946.4 570.5v3.6" stroke="#ee6a5f" stroke-width="1" fill="none"/>
</g>
<g id="panelF">
<text x="7.8" y="681.3" font-family='"Liberation Serif", "Times New Roman", serif' font-size="57" font-weight="bold" text-anchor="start" fill="#000" textLength="36.7" lengthAdjust="spacingAndGlyphs">F</text>
<line x1="192.9" y1="652.0" x2="192.9" y2="836.7" stroke="#000" stroke-width="2" />
<line x1="191.9" y1="835.7" x2="470.6" y2="835.7" stroke="#000" stroke-width="2" />
<line x1="187.5" y1="652.9" x2="192.9" y2="652.9" stroke="#000" stroke-width="2" />
<text x="186.3" y="657.7" font-family='"Liberation Sans", Arial, sans-serif' font-size="13.4" font-weight="bold" text-anchor="end" fill="#000">10</text>
<line x1="187.5" y1="689.3" x2="192.9" y2="689.3" stroke="#000" stroke-width="2" />
<text x="186.3" y="694.1" font-family='"Liberation Sans", Arial, sans-serif' font-size="13.4" font-weight="bold" text-anchor="end" fill="#000">8</text>
<line x1="187.5" y1="725.9" x2="192.9" y2="725.9" stroke="#000" stroke-width="2" />
<text x="186.3" y="730.7" font-family='"Liberation Sans", Arial, sans-serif' font-size="13.4" font-weight="bold" text-anchor="end" fill="#000">6</text>
<line x1="187.5" y1="762.4" x2="192.9" y2="762.4" stroke="#000" stroke-width="2" />
<text x="186.3" y="767.2" font-family='"Liberation Sans", Arial, sans-serif' font-size="13.4" font-weight="bold" text-anchor="end" fill="#000">4</text>
<line x1="187.5" y1="799.0" x2="192.9" y2="799.0" stroke="#000" stroke-width="2" />
<text x="186.3" y="803.8" font-family='"Liberation Sans", Arial, sans-serif' font-size="13.4" font-weight="bold" text-anchor="end" fill="#000">2</text>
<line x1="187.5" y1="835.7" x2="192.9" y2="835.7" stroke="#000" stroke-width="2" />
<text x="186.3" y="840.5" font-family='"Liberation Sans", Arial, sans-serif' font-size="13.4" font-weight="bold" text-anchor="end" fill="#000">0</text>
<line x1="220.0" y1="814.3" x2="220.0" y2="816.6" stroke="#000" stroke-width="2" />
<line x1="210.0" y1="814.3" x2="230.0" y2="814.3" stroke="#000" stroke-width="2" />
<rect x="201.9" y="817.6" width="36.2" height="18.1" fill="url(#chk2)" stroke="#000" stroke-width="2"/>
<line x1="220.0" y1="835.7" x2="220.0" y2="840.3" stroke="#000" stroke-width="2" />
<text x="225.3" y="857.0" font-family='"Liberation Sans", Arial, sans-serif' font-size="13.3" font-weight="bold" text-anchor="end" fill="#000" transform="rotate(-45 225.3 857.0)">HPDE</text>
<line x1="275.8" y1="745.1" x2="275.8" y2="752.0" stroke="#000" stroke-width="2" />
<line x1="265.8" y1="745.1" x2="285.8" y2="745.1" stroke="#000" stroke-width="2" />
<rect x="257.6" y="753.0" width="36.3" height="82.7" fill="url(#chk3)" stroke="#000" stroke-width="2"/>
<line x1="275.8" y1="835.7" x2="275.8" y2="840.3" stroke="#000" stroke-width="2" />
<text x="275.8" y="748.0" font-family='"Liberation Sans", Arial, sans-serif' font-size="16" font-weight="normal" text-anchor="middle" fill="#222">**</text>
<text x="281.1" y="857.0" font-family='"Liberation Sans", Arial, sans-serif' font-size="13.3" font-weight="bold" text-anchor="end" fill="#000" transform="rotate(-45 281.1 857.0)">CAPAN2</text>
<line x1="331.5" y1="784.3" x2="331.5" y2="790.6" stroke="#000" stroke-width="2" />
<line x1="321.5" y1="784.3" x2="341.5" y2="784.3" stroke="#000" stroke-width="2" />
<rect x="313.3" y="791.6" width="36.3" height="44.1" fill="url(#hln)" stroke="#000" stroke-width="2"/>
<line x1="331.5" y1="835.7" x2="331.5" y2="840.3" stroke="#000" stroke-width="2" />
<text x="331.5" y="788.0" font-family='"Liberation Sans", Arial, sans-serif' font-size="16" font-weight="normal" text-anchor="middle" fill="#222">*</text>
<text x="336.8" y="857.0" font-family='"Liberation Sans", Arial, sans-serif' font-size="13.3" font-weight="bold" text-anchor="end" fill="#000" transform="rotate(-45 336.8 857.0)">Panc-1</text>
<line x1="387.1" y1="674.9" x2="387.1" y2="684.3" stroke="#000" stroke-width="2" />
<line x1="377.1" y1="674.9" x2="397.1" y2="674.9" stroke="#000" stroke-width="2" />
<rect x="369.0" y="685.3" width="36.3" height="150.4" fill="url(#vln)" stroke="#000" stroke-width="2"/>
<line x1="387.1" y1="835.7" x2="387.1" y2="840.3" stroke="#000" stroke-width="2" />
<text x="387.1" y="676.8" font-family='"Liberation Sans", Arial, sans-serif' font-size="16" font-weight="normal" text-anchor="middle" fill="#222">**</text>
<text x="392.4" y="857.0" font-family='"Liberation Sans", Arial, sans-serif' font-size="13.3" font-weight="bold" text-anchor="end" fill="#000" transform="rotate(-45 392.4 857.0)">SW1990</text>
<line x1="442.4" y1="785.1" x2="442.4" y2="790.6" stroke="#000" stroke-width="2" />
<line x1="432.4" y1="785.1" x2="452.4" y2="785.1" stroke="#000" stroke-width="2" />
<rect x="424.4" y="791.6" width="36.0" height="44.1" fill="url(#dln)" stroke="#000" stroke-width="2"/>
<line x1="442.4" y1="835.7" x2="442.4" y2="840.3" stroke="#000" stroke-width="2" />
<text x="442.4" y="788.0" font-family='"Liberation Sans", Arial, sans-serif' font-size="16" font-weight="normal" text-anchor="middle" fill="#222">*</text>
<text x="447.7" y="857.0" font-family='"Liberation Sans", Arial, sans-serif' font-size="13.3" font-weight="bold" text-anchor="end" fill="#000" transform="rotate(-45 447.7 857.0)">CFPAC-1</text>
<text x="141.5" y="743.2" font-family='"Liberation Sans", Arial, sans-serif' font-size="14.8" font-weight="bold" text-anchor="middle" fill="#000" transform="rotate(-90 141.5 743.2)">Relative S100A14 mRNA</text>
<text x="160.0" y="743.6" font-family='"Liberation Sans", Arial, sans-serif' font-size="14.8" font-weight="bold" text-anchor="middle" fill="#000" transform="rotate(-90 160.0 743.6)">expression</text>
</g>
<g id="panelG">
<text x="627.8" y="702.5" font-family='"Liberation Serif", "Times New Roman", serif' font-size="57" font-weight="bold" text-anchor="start" fill="#000" textLength="46.1" lengthAdjust="spacingAndGlyphs">G</text>
<defs>
<linearGradient id="bl1" x1="0" y1="0" x2="1" y2="0.3"><stop offset="0" stop-color="#6fa8ce"/><stop offset="0.5" stop-color="#67a0c9"/><stop offset="1" stop-color="#6fa7cd"/></linearGradient>
<linearGradient id="bl2" x1="0" y1="0" x2="1" y2="0.2"><stop offset="0" stop-color="#6cadda"/><stop offset="0.5" stop-color="#63a6d6"/><stop offset="1" stop-color="#67a6d3"/></linearGradient>
<filter id="gb" x="-20%" y="-50%" width="140%" height="200%"><feGaussianBlur stdDeviation="1.6"/></filter>
<filter id="gb3" x="-20%" y="-80%" width="140%" height="260%"><feGaussianBlur stdDeviation="3"/></filter>
<clipPath id="cg1"><rect x="732.5" y="738.5" width="372.5" height="63"/></clipPath>
<clipPath id="cg2"><rect x="732.5" y="820.3" width="372.5" height="63.7"/></clipPath>
</defs>
<rect x="732.5" y="738.5" width="372.5" height="63" fill="url(#bl1)"/>
<rect x="732.5" y="820.3" width="372.5" height="63.7" fill="url(#bl2)"/>
<g clip-path="url(#cg1)">
<path d="M833 757Q858 755 884 760" stroke="#4a84ad" stroke-width="5" fill="none" opacity="0.8" filter="url(#gb3)"/>
<ellipse cx="982.5" cy="773" rx="18" ry="14.5" fill="#13364f" opacity="0.85" filter="url(#gb3)"/>
<rect x="985" y="766" width="50" height="15" rx="7" fill="#1b4566" opacity="0.85" filter="url(#gb3)"/>
<ellipse cx="982" cy="773" rx="13.5" ry="10.3" fill="#05080d" filter="url(#gb)"/>
<rect x="985" y="769.8" width="45" height="7.6" rx="3.8" fill="#0b1724" filter="url(#gb)"/>
<rect x="1008" y="770.8" width="12" height="3" rx="1.5" fill="#2c5a80" opacity="0.55" filter="url(#gb)"/>
</g>
<g clip-path="url(#cg2)">
<ellipse cx="788.8" cy="850.5" rx="34.8" ry="9.5" fill="#1d3e5c" opacity="0.55" filter="url(#gb3)"/>
<ellipse cx="863.5" cy="851.8" rx="29.1" ry="8.8" fill="#1d3e5c" opacity="0.55" filter="url(#gb3)"/>
<ellipse cx="931.5" cy="853.8" rx="34.8" ry="10.8" fill="#1d3e5c" opacity="0.55" filter="url(#gb3)"/>
<ellipse cx="1000.5" cy="855" rx="36.0" ry="11.8" fill="#1d3e5c" opacity="0.55" filter="url(#gb3)"/>
<ellipse cx="1075.0" cy="857" rx="37.0" ry="10.2" fill="#1d3e5c" opacity="0.55" filter="url(#gb3)"/>
<path d="M756.0 850.5C764.2 841.8 813.4 841.8 821.6 850.5C813.4 859.2 764.2 859.2 756.0 850.5Z" fill="#0d0506" filter="url(#gb)"/>
<ellipse cx="788.8" cy="851.7" rx="25.8" ry="3.6" fill="#3a0b06" opacity="0.85" filter="url(#gb)"/>
<path d="M836.4 851.8C843.2 844.0 883.7 844.0 890.5 851.8C883.7 859.6 843.2 859.6 836.4 851.8Z" fill="#0d0506" filter="url(#gb)"/>
<ellipse cx="863.5" cy="853.0" rx="20.1" ry="2.9" fill="#3a0b06" opacity="0.85" filter="url(#gb)"/>
<path d="M898.7 853.8C906.9 843.5 956.1 843.5 964.3 853.8C956.1 864.1 906.9 864.1 898.7 853.8Z" fill="#0d0506" filter="url(#gb)"/>
<ellipse cx="931.5" cy="855.0" rx="25.8" ry="4.8" fill="#3a0b06" opacity="0.85" filter="url(#gb)"/>
<path d="M966.5 855.0C975.0 843.4 1026.0 843.4 1034.5 855.0C1026.0 866.6 975.0 866.6 966.5 855.0Z" fill="#0d0506" filter="url(#gb)"/>
<ellipse cx="1000.5" cy="856.2" rx="27.0" ry="5.8" fill="#3a0b06" opacity="0.85" filter="url(#gb)"/>
<path d="M1040.0 857.0C1048.8 847.3 1101.2 847.3 1110.0 857.0C1101.2 866.7 1048.8 866.7 1040.0 857.0Z" fill="#0d0506" filter="url(#gb)"/>
<ellipse cx="1075.0" cy="858.2" rx="28.0" ry="4.3" fill="#3a0b06" opacity="0.85" filter="url(#gb)"/>
</g>
<text x="636.0" y="780.3" font-family='"Liberation Serif", "Times New Roman", serif' font-size="18.6" font-weight="normal" text-anchor="start" fill="#000" textLength="91.0" lengthAdjust="spacingAndGlyphs">S100A14</text>
<text x="659.3" y="853.6" font-family='"Liberation Serif", "Times New Roman", serif' font-size="18.6" font-weight="normal" text-anchor="start" fill="#000" textLength="66.4" lengthAdjust="spacingAndGlyphs">β-actin</text>
<text x="1125.0" y="788.6" font-family='"Liberation Serif", "Times New Roman", serif' font-size="21" font-weight="bold" text-anchor="start" fill="#000" textLength="65.3" lengthAdjust="spacingAndGlyphs">14kDa</text>
<text x="1122.8" y="864.0" font-family='"Liberation Serif", "Times New Roman", serif' font-size="21" font-weight="bold" text-anchor="start" fill="#000" textLength="66.7" lengthAdjust="spacingAndGlyphs">42kDa</text>
<text x="777.0" y="737.0" font-family='"Liberation Serif", "Times New Roman", serif' font-size="18.5" font-weight="normal" text-anchor="start" fill="#000" textLength="51.0" lengthAdjust="spacingAndGlyphs" transform="rotate(-48 777.0 737.0)">HPDE</text>
<text x="841.0" y="736.0" font-family='"Liberation Serif", "Times New Roman", serif' font-size="18.5" font-weight="normal" text-anchor="start" fill="#000" textLength="74.0" lengthAdjust="spacingAndGlyphs" transform="rotate(-49 841.0 736.0)">CAPAN2</text>
<text x="918.5" y="737.5" font-family='"Liberation Serif", "Times New Roman", serif' font-size="18.5" font-weight="normal" text-anchor="start" fill="#000" textLength="56.0" lengthAdjust="spacingAndGlyphs" transform="rotate(-51 918.5 737.5)">Panc-1</text>
<text x="990.5" y="738.0" font-family='"Liberation Serif", "Times New Roman", serif' font-size="18.5" font-weight="normal" text-anchor="start" fill="#000" textLength="69.5" lengthAdjust="spacingAndGlyphs" transform="rotate(-52 990.5 738.0)">SW1990</text>
<text x="1069.5" y="737.0" font-family='"Liberation Serif", "Times New Roman", serif' font-size="18.5" font-weight="normal" text-anchor="start" fill="#000" textLength="74.5" lengthAdjust="spacingAndGlyphs" transform="rotate(-52 1069.5 737.0)">CFPAC-1</text>
</g>
</svg>
</body></html>
